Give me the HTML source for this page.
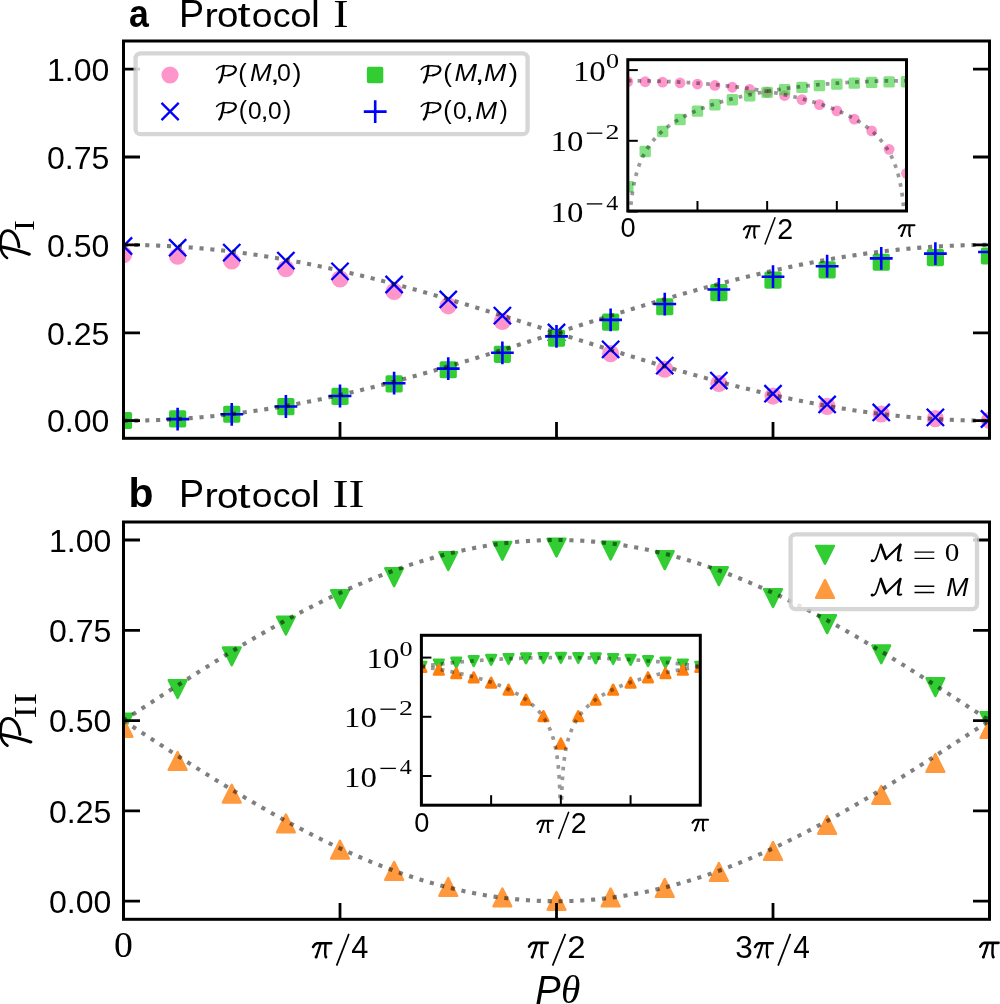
<!DOCTYPE html>
<html><head><meta charset="utf-8"><style>
html,body{margin:0;padding:0;background:#fff;width:1000px;height:1004px;overflow:hidden}
svg{display:block}
.s,.sb,.si{font-family:"Liberation Sans",sans-serif;font-kerning:none}
.sb{font-weight:bold}.si{font-style:italic}
.r,.ri{font-family:"Liberation Serif",serif;font-kerning:none}
.ri{font-style:italic}
</style></head><body>
<svg width="1000" height="1004" viewBox="0 0 1000 1004">
<defs>
<clipPath id="ca"><rect x="123.5" y="41.0" width="866.0" height="397.3"/></clipPath>
<clipPath id="cb"><rect x="123.5" y="522.0" width="866.0" height="397.29999999999995"/></clipPath>
<clipPath id="cia"><rect x="627.8" y="59.7" width="278.7" height="151.3"/></clipPath>
<clipPath id="cib"><rect x="421.4" y="635.3" width="278.9" height="169.9"/></clipPath>
</defs>
<rect width="1000" height="1004" fill="#fff"/>
<g clip-path="url(#ca)">
<circle cx="123.5" cy="254.67" r="8.6" fill="#ff96cb"/>
<circle cx="177.62" cy="256.27" r="8.6" fill="#ff96cb"/>
<circle cx="231.75" cy="260.98" r="8.6" fill="#ff96cb"/>
<circle cx="285.88" cy="268.63" r="8.6" fill="#ff96cb"/>
<circle cx="340" cy="278.93" r="8.6" fill="#ff96cb"/>
<circle cx="394.12" cy="291.47" r="8.6" fill="#ff96cb"/>
<circle cx="448.25" cy="305.79" r="8.6" fill="#ff96cb"/>
<circle cx="502.38" cy="321.32" r="8.6" fill="#ff96cb"/>
<circle cx="556.5" cy="337.48" r="8.6" fill="#ff96cb"/>
<circle cx="610.62" cy="353.63" r="8.6" fill="#ff96cb"/>
<circle cx="664.75" cy="369.16" r="8.6" fill="#ff96cb"/>
<circle cx="718.87" cy="383.48" r="8.6" fill="#ff96cb"/>
<circle cx="773" cy="396.03" r="8.6" fill="#ff96cb"/>
<circle cx="827.13" cy="406.32" r="8.6" fill="#ff96cb"/>
<circle cx="881.25" cy="413.98" r="8.6" fill="#ff96cb"/>
<circle cx="935.37" cy="418.69" r="8.6" fill="#ff96cb"/>
<circle cx="989.5" cy="420.28" r="8.6" fill="#ff96cb"/>
<path d="M114.9,237.43L132.1,254.63M114.9,254.63L132.1,237.43" stroke="#0000ff" stroke-width="2.3" fill="none"/>
<path d="M169.03,239.09L186.22,256.29M169.03,256.29L186.22,239.09" stroke="#0000ff" stroke-width="2.3" fill="none"/>
<path d="M223.15,244.01L240.35,261.21M223.15,261.21L240.35,244.01" stroke="#0000ff" stroke-width="2.3" fill="none"/>
<path d="M277.27,252L294.48,269.2M277.27,269.2L294.48,252" stroke="#0000ff" stroke-width="2.3" fill="none"/>
<path d="M331.4,262.76L348.6,279.96M331.4,279.96L348.6,262.76" stroke="#0000ff" stroke-width="2.3" fill="none"/>
<path d="M385.52,275.87L402.73,293.07M385.52,293.07L402.73,275.87" stroke="#0000ff" stroke-width="2.3" fill="none"/>
<path d="M439.65,290.82L456.85,308.02M439.65,308.02L456.85,290.82" stroke="#0000ff" stroke-width="2.3" fill="none"/>
<path d="M493.77,307.04L510.98,324.24M493.77,324.24L510.98,307.04" stroke="#0000ff" stroke-width="2.3" fill="none"/>
<path d="M547.9,323.92L565.1,341.12M547.9,341.12L565.1,323.92" stroke="#0000ff" stroke-width="2.3" fill="none"/>
<path d="M602.02,340.79L619.23,357.99M602.02,357.99L619.23,340.79" stroke="#0000ff" stroke-width="2.3" fill="none"/>
<path d="M656.15,357.02L673.35,374.22M656.15,374.22L673.35,357.02" stroke="#0000ff" stroke-width="2.3" fill="none"/>
<path d="M710.27,371.97L727.47,389.17M710.27,389.17L727.47,371.97" stroke="#0000ff" stroke-width="2.3" fill="none"/>
<path d="M764.4,385.08L781.6,402.28M764.4,402.28L781.6,385.08" stroke="#0000ff" stroke-width="2.3" fill="none"/>
<path d="M818.53,395.84L835.73,413.04M818.53,413.04L835.73,395.84" stroke="#0000ff" stroke-width="2.3" fill="none"/>
<path d="M872.65,403.83L889.85,421.03M872.65,421.03L889.85,403.83" stroke="#0000ff" stroke-width="2.3" fill="none"/>
<path d="M926.77,408.75L943.97,425.95M926.77,425.95L943.97,408.75" stroke="#0000ff" stroke-width="2.3" fill="none"/>
<path d="M980.9,410.41L998.1,427.61M980.9,427.61L998.1,410.41" stroke="#0000ff" stroke-width="2.3" fill="none"/>
<rect x="114.9" y="411.92" width="17.2" height="17.2" rx="1.8" fill="#32cd32"/>
<rect x="169.03" y="410.34" width="17.2" height="17.2" rx="1.8" fill="#32cd32"/>
<rect x="223.15" y="405.66" width="17.2" height="17.2" rx="1.8" fill="#32cd32"/>
<rect x="277.27" y="398.06" width="17.2" height="17.2" rx="1.8" fill="#32cd32"/>
<rect x="331.4" y="387.83" width="17.2" height="17.2" rx="1.8" fill="#32cd32"/>
<rect x="385.52" y="375.36" width="17.2" height="17.2" rx="1.8" fill="#32cd32"/>
<rect x="439.65" y="361.13" width="17.2" height="17.2" rx="1.8" fill="#32cd32"/>
<rect x="493.77" y="345.7" width="17.2" height="17.2" rx="1.8" fill="#32cd32"/>
<rect x="547.9" y="329.65" width="17.2" height="17.2" rx="1.8" fill="#32cd32"/>
<rect x="602.02" y="313.6" width="17.2" height="17.2" rx="1.8" fill="#32cd32"/>
<rect x="656.15" y="298.16" width="17.2" height="17.2" rx="1.8" fill="#32cd32"/>
<rect x="710.27" y="283.94" width="17.2" height="17.2" rx="1.8" fill="#32cd32"/>
<rect x="764.4" y="271.47" width="17.2" height="17.2" rx="1.8" fill="#32cd32"/>
<rect x="818.53" y="261.24" width="17.2" height="17.2" rx="1.8" fill="#32cd32"/>
<rect x="872.65" y="253.64" width="17.2" height="17.2" rx="1.8" fill="#32cd32"/>
<rect x="926.77" y="248.96" width="17.2" height="17.2" rx="1.8" fill="#32cd32"/>
<rect x="980.9" y="247.38" width="17.2" height="17.2" rx="1.8" fill="#32cd32"/>
<path d="M112.1,420.7H134.9M123.5,409.3V432.1" stroke="#0000ff" stroke-width="2.6" fill="none"/>
<path d="M166.22,419.08H189.03M177.62,407.68V430.48" stroke="#0000ff" stroke-width="2.6" fill="none"/>
<path d="M220.35,414.28H243.15M231.75,402.88V425.68" stroke="#0000ff" stroke-width="2.6" fill="none"/>
<path d="M274.48,406.48H297.27M285.88,395.08V417.88" stroke="#0000ff" stroke-width="2.6" fill="none"/>
<path d="M328.6,395.99H351.4M340,384.59V407.39" stroke="#0000ff" stroke-width="2.6" fill="none"/>
<path d="M382.73,383.21H405.52M394.12,371.81V394.61" stroke="#0000ff" stroke-width="2.6" fill="none"/>
<path d="M436.85,368.63H459.65M448.25,357.23V380.03" stroke="#0000ff" stroke-width="2.6" fill="none"/>
<path d="M490.98,352.81H513.77M502.38,341.41V364.21" stroke="#0000ff" stroke-width="2.6" fill="none"/>
<path d="M545.1,336.35H567.9M556.5,324.95V347.75" stroke="#0000ff" stroke-width="2.6" fill="none"/>
<path d="M599.23,319.9H622.02M610.62,308.5V331.3" stroke="#0000ff" stroke-width="2.6" fill="none"/>
<path d="M653.35,304.07H676.15M664.75,292.67V315.47" stroke="#0000ff" stroke-width="2.6" fill="none"/>
<path d="M707.47,289.49H730.27M718.87,278.09V300.89" stroke="#0000ff" stroke-width="2.6" fill="none"/>
<path d="M761.6,276.71H784.4M773,265.31V288.11" stroke="#0000ff" stroke-width="2.6" fill="none"/>
<path d="M815.73,266.22H838.53M827.13,254.82V277.62" stroke="#0000ff" stroke-width="2.6" fill="none"/>
<path d="M869.85,258.42H892.65M881.25,247.02V269.82" stroke="#0000ff" stroke-width="2.6" fill="none"/>
<path d="M923.97,253.62H946.77M935.37,242.22V265.02" stroke="#0000ff" stroke-width="2.6" fill="none"/>
<path d="M978.1,252H1000.9M989.5,240.6V263.4" stroke="#0000ff" stroke-width="2.6" fill="none"/>
<path d="M123.5,244.9L125.67,244.9L127.83,244.91L130,244.92L132.16,244.94L134.32,244.97L136.49,245L138.66,245.03L140.82,245.07L142.99,245.12L145.15,245.17L147.31,245.23L149.48,245.29L151.65,245.36L153.81,245.43L155.97,245.51L158.14,245.59L160.31,245.68L162.47,245.78L164.63,245.88L166.8,245.98L168.97,246.09L171.13,246.21L173.29,246.33L175.46,246.46L177.62,246.59L179.79,246.73L181.96,246.87L184.12,247.02L186.29,247.17L188.45,247.33L190.62,247.49L192.78,247.66L194.94,247.84L197.11,248.02L199.27,248.2L201.44,248.39L203.61,248.59L205.77,248.79L207.94,248.99L210.1,249.2L212.26,249.42L214.43,249.64L216.59,249.87L218.76,250.1L220.93,250.33L223.09,250.57L225.25,250.82L227.42,251.07L229.58,251.33L231.75,251.59L233.92,251.86L236.08,252.13L238.25,252.41L240.41,252.69L242.57,252.97L244.74,253.27L246.9,253.56L249.07,253.86L251.24,254.17L253.4,254.48L255.56,254.8L257.73,255.12L259.89,255.44L262.06,255.77L264.23,256.11L266.39,256.45L268.56,256.79L270.72,257.14L272.88,257.49L275.05,257.85L277.22,258.22L279.38,258.58L281.54,258.96L283.71,259.33L285.88,259.71L288.04,260.1L290.21,260.49L292.37,260.88L294.53,261.28L296.7,261.69L298.87,262.1L301.03,262.51L303.2,262.92L305.36,263.35L307.52,263.77L309.69,264.2L311.85,264.63L314.02,265.07L316.19,265.51L318.35,265.96L320.51,266.41L322.68,266.87L324.85,267.32L327.01,267.79L329.17,268.25L331.34,268.72L333.5,269.2L335.67,269.68L337.84,270.16L340,270.65L342.16,271.14L344.33,271.63L346.5,272.13L348.66,272.63L350.83,273.13L352.99,273.64L355.15,274.15L357.32,274.67L359.48,275.19L361.65,275.71L363.82,276.24L365.98,276.77L368.14,277.3L370.31,277.84L372.48,278.38L374.64,278.93L376.8,279.47L378.97,280.02L381.13,280.58L383.3,281.13L385.47,281.69L387.63,282.26L389.8,282.82L391.96,283.39L394.12,283.97L396.29,284.54L398.45,285.12L400.62,285.7L402.79,286.29L404.95,286.87L407.12,287.46L409.28,288.06L411.44,288.65L413.61,289.25L415.78,289.85L417.94,290.45L420.11,291.06L422.27,291.67L424.44,292.28L426.6,292.89L428.76,293.51L430.93,294.13L433.1,294.75L435.26,295.37L437.43,296L439.59,296.63L441.76,297.26L443.92,297.89L446.08,298.53L448.25,299.16L450.42,299.8L452.58,300.44L454.75,301.08L456.91,301.73L459.07,302.38L461.24,303.02L463.4,303.68L465.57,304.33L467.74,304.98L469.9,305.64L472.06,306.29L474.23,306.95L476.39,307.61L478.56,308.28L480.72,308.94L482.89,309.61L485.06,310.27L487.22,310.94L489.38,311.61L491.55,312.28L493.71,312.95L495.88,313.63L498.04,314.3L500.21,314.97L502.37,315.65L504.54,316.33L506.71,317.01L508.87,317.69L511.04,318.37L513.2,319.05L515.37,319.73L517.53,320.41L519.69,321.1L521.86,321.78L524.03,322.47L526.19,323.15L528.36,323.84L530.52,324.53L532.68,325.22L534.85,325.9L537.01,326.59L539.18,327.28L541.35,327.97L543.51,328.66L545.67,329.35L547.84,330.04L550,330.73L552.17,331.42L554.34,332.11L556.5,332.8L558.66,333.49L560.83,334.18L563,334.87L565.16,335.56L567.33,336.25L569.49,336.94L571.65,337.63L573.82,338.32L575.98,339.01L578.15,339.7L580.32,340.38L582.48,341.07L584.64,341.76L586.81,342.45L588.97,343.13L591.14,343.82L593.31,344.5L595.47,345.19L597.63,345.87L599.8,346.55L601.97,347.23L604.13,347.91L606.3,348.59L608.46,349.27L610.62,349.95L612.79,350.63L614.95,351.3L617.12,351.97L619.28,352.65L621.45,353.32L623.62,353.99L625.78,354.66L627.94,355.33L630.11,355.99L632.28,356.66L634.44,357.32L636.61,357.99L638.77,358.65L640.93,359.31L643.1,359.96L645.26,360.62L647.43,361.27L649.6,361.92L651.76,362.58L653.93,363.22L656.09,363.87L658.25,364.52L660.42,365.16L662.58,365.8L664.75,366.44L666.92,367.07L669.08,367.71L671.25,368.34L673.41,368.97L675.58,369.6L677.74,370.23L679.91,370.85L682.07,371.47L684.24,372.09L686.4,372.71L688.56,373.32L690.73,373.93L692.9,374.54L695.06,375.15L697.23,375.75L699.39,376.35L701.56,376.95L703.72,377.54L705.88,378.14L708.05,378.73L710.22,379.31L712.38,379.9L714.55,380.48L716.71,381.06L718.88,381.63L721.04,382.21L723.21,382.78L725.37,383.34L727.53,383.91L729.7,384.47L731.87,385.02L734.03,385.58L736.2,386.13L738.36,386.67L740.52,387.22L742.69,387.76L744.86,388.3L747.02,388.83L749.19,389.36L751.35,389.89L753.51,390.41L755.68,390.93L757.84,391.45L760.01,391.96L762.18,392.47L764.34,392.97L766.5,393.47L768.67,393.97L770.84,394.46L773,394.95L775.16,395.44L777.33,395.92L779.5,396.4L781.66,396.88L783.83,397.35L785.99,397.81L788.16,398.28L790.32,398.73L792.49,399.19L794.65,399.64L796.81,400.09L798.98,400.53L801.14,400.97L803.31,401.4L805.48,401.83L807.64,402.25L809.81,402.68L811.97,403.09L814.13,403.5L816.3,403.91L818.47,404.32L820.63,404.72L822.79,405.11L824.96,405.5L827.12,405.89L829.29,406.27L831.46,406.64L833.62,407.02L835.78,407.38L837.95,407.75L840.12,408.11L842.28,408.46L844.44,408.81L846.61,409.15L848.77,409.49L850.94,409.83L853.1,410.16L855.27,410.48L857.43,410.8L859.6,411.12L861.76,411.43L863.93,411.74L866.1,412.04L868.26,412.33L870.43,412.63L872.59,412.91L874.75,413.19L876.92,413.47L879.09,413.74L881.25,414.01L883.41,414.27L885.58,414.53L887.75,414.78L889.91,415.03L892.07,415.27L894.24,415.5L896.4,415.73L898.57,415.96L900.73,416.18L902.9,416.4L905.06,416.61L907.23,416.81L909.4,417.01L911.56,417.21L913.73,417.4L915.89,417.58L918.06,417.76L920.22,417.94L922.38,418.11L924.55,418.27L926.72,418.43L928.88,418.58L931.04,418.73L933.21,418.87L935.37,419.01L937.54,419.14L939.7,419.27L941.87,419.39L944.03,419.51L946.2,419.62L948.37,419.72L950.53,419.82L952.69,419.92L954.86,420.01L957.02,420.09L959.19,420.17L961.36,420.24L963.52,420.31L965.69,420.37L967.85,420.43L970.01,420.48L972.18,420.53L974.34,420.57L976.51,420.6L978.67,420.63L980.84,420.66L983,420.68L985.17,420.69L987.34,420.7L989.5,420.7" stroke="#000" stroke-opacity="0.5" stroke-width="4.1" stroke-dasharray="4.1 6.77" fill="none"/>
<path d="M123.5,420.7L125.67,420.7L127.83,420.69L130,420.68L132.16,420.66L134.32,420.63L136.49,420.6L138.66,420.57L140.82,420.53L142.99,420.48L145.15,420.43L147.31,420.37L149.48,420.31L151.65,420.24L153.81,420.17L155.97,420.09L158.14,420.01L160.31,419.92L162.47,419.82L164.63,419.72L166.8,419.62L168.97,419.51L171.13,419.39L173.29,419.27L175.46,419.14L177.62,419.01L179.79,418.87L181.96,418.73L184.12,418.58L186.29,418.43L188.45,418.27L190.62,418.11L192.78,417.94L194.94,417.76L197.11,417.58L199.27,417.4L201.44,417.21L203.61,417.01L205.77,416.81L207.94,416.61L210.1,416.4L212.26,416.18L214.43,415.96L216.59,415.73L218.76,415.5L220.93,415.27L223.09,415.03L225.25,414.78L227.42,414.53L229.58,414.27L231.75,414.01L233.92,413.74L236.08,413.47L238.25,413.19L240.41,412.91L242.57,412.63L244.74,412.33L246.9,412.04L249.07,411.74L251.24,411.43L253.4,411.12L255.56,410.8L257.73,410.48L259.89,410.16L262.06,409.83L264.23,409.49L266.39,409.15L268.56,408.81L270.72,408.46L272.88,408.11L275.05,407.75L277.22,407.38L279.38,407.02L281.54,406.64L283.71,406.27L285.88,405.89L288.04,405.5L290.21,405.11L292.37,404.72L294.53,404.32L296.7,403.91L298.87,403.5L301.03,403.09L303.2,402.68L305.36,402.25L307.52,401.83L309.69,401.4L311.85,400.97L314.02,400.53L316.19,400.09L318.35,399.64L320.51,399.19L322.68,398.73L324.85,398.28L327.01,397.81L329.17,397.35L331.34,396.88L333.5,396.4L335.67,395.92L337.84,395.44L340,394.95L342.16,394.46L344.33,393.97L346.5,393.47L348.66,392.97L350.83,392.47L352.99,391.96L355.15,391.45L357.32,390.93L359.48,390.41L361.65,389.89L363.82,389.36L365.98,388.83L368.14,388.3L370.31,387.76L372.48,387.22L374.64,386.67L376.8,386.13L378.97,385.58L381.13,385.02L383.3,384.47L385.47,383.91L387.63,383.34L389.8,382.78L391.96,382.21L394.12,381.63L396.29,381.06L398.45,380.48L400.62,379.9L402.79,379.31L404.95,378.73L407.12,378.14L409.28,377.54L411.44,376.95L413.61,376.35L415.78,375.75L417.94,375.15L420.11,374.54L422.27,373.93L424.44,373.32L426.6,372.71L428.76,372.09L430.93,371.47L433.1,370.85L435.26,370.23L437.43,369.6L439.59,368.97L441.76,368.34L443.92,367.71L446.08,367.07L448.25,366.44L450.42,365.8L452.58,365.16L454.75,364.52L456.91,363.87L459.07,363.22L461.24,362.58L463.4,361.92L465.57,361.27L467.74,360.62L469.9,359.96L472.06,359.31L474.23,358.65L476.39,357.99L478.56,357.32L480.72,356.66L482.89,355.99L485.06,355.33L487.22,354.66L489.38,353.99L491.55,353.32L493.71,352.65L495.88,351.97L498.04,351.3L500.21,350.63L502.37,349.95L504.54,349.27L506.71,348.59L508.87,347.91L511.04,347.23L513.2,346.55L515.37,345.87L517.53,345.19L519.69,344.5L521.86,343.82L524.03,343.13L526.19,342.45L528.36,341.76L530.52,341.07L532.68,340.38L534.85,339.7L537.01,339.01L539.18,338.32L541.35,337.63L543.51,336.94L545.67,336.25L547.84,335.56L550,334.87L552.17,334.18L554.34,333.49L556.5,332.8L558.66,332.11L560.83,331.42L563,330.73L565.16,330.04L567.33,329.35L569.49,328.66L571.65,327.97L573.82,327.28L575.98,326.59L578.15,325.9L580.32,325.22L582.48,324.53L584.64,323.84L586.81,323.15L588.97,322.47L591.14,321.78L593.31,321.1L595.47,320.41L597.63,319.73L599.8,319.05L601.97,318.37L604.13,317.69L606.3,317.01L608.46,316.33L610.62,315.65L612.79,314.97L614.95,314.3L617.12,313.63L619.28,312.95L621.45,312.28L623.62,311.61L625.78,310.94L627.94,310.27L630.11,309.61L632.28,308.94L634.44,308.28L636.61,307.61L638.77,306.95L640.93,306.29L643.1,305.64L645.26,304.98L647.43,304.33L649.6,303.68L651.76,303.02L653.93,302.38L656.09,301.73L658.25,301.08L660.42,300.44L662.58,299.8L664.75,299.16L666.92,298.53L669.08,297.89L671.25,297.26L673.41,296.63L675.58,296L677.74,295.37L679.91,294.75L682.07,294.13L684.24,293.51L686.4,292.89L688.56,292.28L690.73,291.67L692.9,291.06L695.06,290.45L697.23,289.85L699.39,289.25L701.56,288.65L703.72,288.06L705.88,287.46L708.05,286.87L710.22,286.29L712.38,285.7L714.55,285.12L716.71,284.54L718.88,283.97L721.04,283.39L723.21,282.82L725.37,282.26L727.53,281.69L729.7,281.13L731.87,280.58L734.03,280.02L736.2,279.47L738.36,278.93L740.52,278.38L742.69,277.84L744.86,277.3L747.02,276.77L749.19,276.24L751.35,275.71L753.51,275.19L755.68,274.67L757.84,274.15L760.01,273.64L762.18,273.13L764.34,272.63L766.5,272.13L768.67,271.63L770.84,271.14L773,270.65L775.16,270.16L777.33,269.68L779.5,269.2L781.66,268.72L783.83,268.25L785.99,267.79L788.16,267.32L790.32,266.87L792.49,266.41L794.65,265.96L796.81,265.51L798.98,265.07L801.14,264.63L803.31,264.2L805.48,263.77L807.64,263.35L809.81,262.92L811.97,262.51L814.13,262.1L816.3,261.69L818.47,261.28L820.63,260.88L822.79,260.49L824.96,260.1L827.12,259.71L829.29,259.33L831.46,258.96L833.62,258.58L835.78,258.22L837.95,257.85L840.12,257.49L842.28,257.14L844.44,256.79L846.61,256.45L848.77,256.11L850.94,255.77L853.1,255.44L855.27,255.12L857.43,254.8L859.6,254.48L861.76,254.17L863.93,253.86L866.1,253.56L868.26,253.27L870.43,252.97L872.59,252.69L874.75,252.41L876.92,252.13L879.09,251.86L881.25,251.59L883.41,251.33L885.58,251.07L887.75,250.82L889.91,250.57L892.07,250.33L894.24,250.1L896.4,249.87L898.57,249.64L900.73,249.42L902.9,249.2L905.06,248.99L907.23,248.79L909.4,248.59L911.56,248.39L913.73,248.2L915.89,248.02L918.06,247.84L920.22,247.66L922.38,247.49L924.55,247.33L926.72,247.17L928.88,247.02L931.04,246.87L933.21,246.73L935.37,246.59L937.54,246.46L939.7,246.33L941.87,246.21L944.03,246.09L946.2,245.98L948.37,245.88L950.53,245.78L952.69,245.68L954.86,245.59L957.02,245.51L959.19,245.43L961.36,245.36L963.52,245.29L965.69,245.23L967.85,245.17L970.01,245.12L972.18,245.07L974.34,245.03L976.51,245L978.67,244.97L980.84,244.94L983,244.92L985.17,244.91L987.34,244.9L989.5,244.9" stroke="#000" stroke-opacity="0.5" stroke-width="4.1" stroke-dasharray="4.1 6.77" fill="none"/>
</g>
<path d="M123.5,420.7H140.0M989.5,420.7H973.0" stroke="#000" stroke-width="2.8"/><path d="M123.5,332.8H140.0M989.5,332.8H973.0" stroke="#000" stroke-width="2.8"/><path d="M123.5,244.9H140.0M989.5,244.9H973.0" stroke="#000" stroke-width="2.8"/><path d="M123.5,157H140.0M989.5,157H973.0" stroke="#000" stroke-width="2.8"/><path d="M123.5,69.1H140.0M989.5,69.1H973.0" stroke="#000" stroke-width="2.8"/><path d="M123.5,438.3V422.0" stroke="#000" stroke-width="2.8"/><path d="M340,438.3V422.0" stroke="#000" stroke-width="2.8"/><path d="M556.5,438.3V422.0" stroke="#000" stroke-width="2.8"/><path d="M773,438.3V422.0" stroke="#000" stroke-width="2.8"/><path d="M989.5,438.3V422.0" stroke="#000" stroke-width="2.8"/><rect x="123.5" y="41.0" width="866.0" height="397.3" fill="none" stroke="#000" stroke-width="3"/>
<rect x="135.6" y="53.3" width="392" height="80.9" rx="5" fill="#fff" fill-opacity="0.8" stroke="#ccc" stroke-opacity="0.8" stroke-width="4.3"/>
<circle cx="170" cy="75" r="8.6" fill="#ff96cb"/>
<path d="M161.5,102.9L178.7,120.1M161.5,120.1L178.7,102.9" stroke="#0000ff" stroke-width="2.3" fill="none"/>
<rect x="366.9" y="66.85" width="16.4" height="16.4" rx="1.8" fill="#32cd32"/>
<path d="M363.8,111.6H386.6M375.2,100.2V123" stroke="#0000ff" stroke-width="2.6" fill="none"/>
<g clip-path="url(#cb)">
<path d="M114.6,713.7L132.4,713.7L123.5,731.5Z" fill="#32cd32" stroke="#32cd32" stroke-width="2.4" stroke-linejoin="round"/>
<path d="M168.72,680.1L186.53,680.1L177.62,697.9Z" fill="#32cd32" stroke="#32cd32" stroke-width="2.4" stroke-linejoin="round"/>
<path d="M222.85,647.5L240.65,647.5L231.75,665.3Z" fill="#32cd32" stroke="#32cd32" stroke-width="2.4" stroke-linejoin="round"/>
<path d="M276.98,616.7L294.77,616.7L285.88,634.5Z" fill="#32cd32" stroke="#32cd32" stroke-width="2.4" stroke-linejoin="round"/>
<path d="M331.1,590.1L348.9,590.1L340,607.9Z" fill="#32cd32" stroke="#32cd32" stroke-width="2.4" stroke-linejoin="round"/>
<path d="M385.23,568.3L403.02,568.3L394.12,586.1Z" fill="#32cd32" stroke="#32cd32" stroke-width="2.4" stroke-linejoin="round"/>
<path d="M439.35,552.1L457.15,552.1L448.25,569.9Z" fill="#32cd32" stroke="#32cd32" stroke-width="2.4" stroke-linejoin="round"/>
<path d="M493.48,541.9L511.27,541.9L502.38,559.7Z" fill="#32cd32" stroke="#32cd32" stroke-width="2.4" stroke-linejoin="round"/>
<path d="M547.6,538.6L565.4,538.6L556.5,556.4Z" fill="#32cd32" stroke="#32cd32" stroke-width="2.4" stroke-linejoin="round"/>
<path d="M601.73,541.6L619.52,541.6L610.62,559.4Z" fill="#32cd32" stroke="#32cd32" stroke-width="2.4" stroke-linejoin="round"/>
<path d="M655.85,551.3L673.65,551.3L664.75,569.1Z" fill="#32cd32" stroke="#32cd32" stroke-width="2.4" stroke-linejoin="round"/>
<path d="M709.97,567.3L727.77,567.3L718.87,585.1Z" fill="#32cd32" stroke="#32cd32" stroke-width="2.4" stroke-linejoin="round"/>
<path d="M764.1,589.1L781.9,589.1L773,606.9Z" fill="#32cd32" stroke="#32cd32" stroke-width="2.4" stroke-linejoin="round"/>
<path d="M818.23,615.3L836.03,615.3L827.13,633.1Z" fill="#32cd32" stroke="#32cd32" stroke-width="2.4" stroke-linejoin="round"/>
<path d="M872.35,645.5L890.15,645.5L881.25,663.3Z" fill="#32cd32" stroke="#32cd32" stroke-width="2.4" stroke-linejoin="round"/>
<path d="M926.47,678.3L944.27,678.3L935.37,696.1Z" fill="#32cd32" stroke="#32cd32" stroke-width="2.4" stroke-linejoin="round"/>
<path d="M980.6,712.1L998.4,712.1L989.5,729.9Z" fill="#32cd32" stroke="#32cd32" stroke-width="2.4" stroke-linejoin="round"/>
<path d="M114.6,736.7L132.4,736.7L123.5,718.9Z" fill="#ff993e" stroke="#ff993e" stroke-width="2.4" stroke-linejoin="round"/>
<path d="M168.72,769.9L186.53,769.9L177.62,752.1Z" fill="#ff993e" stroke="#ff993e" stroke-width="2.4" stroke-linejoin="round"/>
<path d="M222.85,802.5L240.65,802.5L231.75,784.7Z" fill="#ff993e" stroke="#ff993e" stroke-width="2.4" stroke-linejoin="round"/>
<path d="M276.98,832.3L294.77,832.3L285.88,814.5Z" fill="#ff993e" stroke="#ff993e" stroke-width="2.4" stroke-linejoin="round"/>
<path d="M331.1,858.5L348.9,858.5L340,840.7Z" fill="#ff993e" stroke="#ff993e" stroke-width="2.4" stroke-linejoin="round"/>
<path d="M385.23,879.9L403.02,879.9L394.12,862.1Z" fill="#ff993e" stroke="#ff993e" stroke-width="2.4" stroke-linejoin="round"/>
<path d="M439.35,895.9L457.15,895.9L448.25,878.1Z" fill="#ff993e" stroke="#ff993e" stroke-width="2.4" stroke-linejoin="round"/>
<path d="M493.48,906.3L511.27,906.3L502.38,888.5Z" fill="#ff993e" stroke="#ff993e" stroke-width="2.4" stroke-linejoin="round"/>
<path d="M547.6,909.8L565.4,909.8L556.5,892Z" fill="#ff993e" stroke="#ff993e" stroke-width="2.4" stroke-linejoin="round"/>
<path d="M601.73,906.4L619.52,906.4L610.62,888.6Z" fill="#ff993e" stroke="#ff993e" stroke-width="2.4" stroke-linejoin="round"/>
<path d="M655.85,896.9L673.65,896.9L664.75,879.1Z" fill="#ff993e" stroke="#ff993e" stroke-width="2.4" stroke-linejoin="round"/>
<path d="M709.97,880.9L727.77,880.9L718.87,863.1Z" fill="#ff993e" stroke="#ff993e" stroke-width="2.4" stroke-linejoin="round"/>
<path d="M764.1,859.9L781.9,859.9L773,842.1Z" fill="#ff993e" stroke="#ff993e" stroke-width="2.4" stroke-linejoin="round"/>
<path d="M818.23,833.9L836.03,833.9L827.13,816.1Z" fill="#ff993e" stroke="#ff993e" stroke-width="2.4" stroke-linejoin="round"/>
<path d="M872.35,803.9L890.15,803.9L881.25,786.1Z" fill="#ff993e" stroke="#ff993e" stroke-width="2.4" stroke-linejoin="round"/>
<path d="M926.47,771.9L944.27,771.9L935.37,754.1Z" fill="#ff993e" stroke="#ff993e" stroke-width="2.4" stroke-linejoin="round"/>
<path d="M980.6,737.9L998.4,737.9L989.5,720.1Z" fill="#ff993e" stroke="#ff993e" stroke-width="2.4" stroke-linejoin="round"/>
<path d="M123.5,720.6L125.67,719.18L127.83,717.76L130,716.35L132.16,714.93L134.32,713.51L136.49,712.09L138.66,710.68L140.82,709.26L142.99,707.84L145.15,706.43L147.31,705.02L149.48,703.6L151.65,702.19L153.81,700.78L155.97,699.37L158.14,697.96L160.31,696.56L162.47,695.15L164.63,693.75L166.8,692.35L168.97,690.95L171.13,689.55L173.29,688.15L175.46,686.76L177.62,685.37L179.79,683.98L181.96,682.59L184.12,681.2L186.29,679.82L188.45,678.44L190.62,677.06L192.78,675.69L194.94,674.31L197.11,672.94L199.27,671.58L201.44,670.21L203.61,668.85L205.77,667.5L207.94,666.14L210.1,664.79L212.26,663.44L214.43,662.1L216.59,660.76L218.76,659.42L220.93,658.09L223.09,656.76L225.25,655.44L227.42,654.12L229.58,652.8L231.75,651.49L233.92,650.18L236.08,648.88L238.25,647.58L240.41,646.28L242.57,644.99L244.74,643.7L246.9,642.42L249.07,641.15L251.24,639.88L253.4,638.61L255.56,637.35L257.73,636.09L259.89,634.84L262.06,633.6L264.23,632.36L266.39,631.12L268.56,629.89L270.72,628.67L272.88,627.45L275.05,626.24L277.22,625.03L279.38,623.83L281.54,622.64L283.71,621.45L285.88,620.26L288.04,619.09L290.21,617.92L292.37,616.75L294.53,615.6L296.7,614.45L298.87,613.3L301.03,612.16L303.2,611.03L305.36,609.91L307.52,608.79L309.69,607.68L311.85,606.58L314.02,605.48L316.19,604.39L318.35,603.31L320.51,602.23L322.68,601.17L324.85,600.11L327.01,599.05L329.17,598.01L331.34,596.97L333.5,595.94L335.67,594.92L337.84,593.9L340,592.9L342.16,591.9L344.33,590.91L346.5,589.92L348.66,588.95L350.83,587.98L352.99,587.02L355.15,586.07L357.32,585.13L359.48,584.2L361.65,583.27L363.82,582.35L365.98,581.45L368.14,580.55L370.31,579.65L372.48,578.77L374.64,577.9L376.8,577.03L378.97,576.18L381.13,575.33L383.3,574.49L385.47,573.66L387.63,572.84L389.8,572.03L391.96,571.23L394.12,570.44L396.29,569.65L398.45,568.88L400.62,568.11L402.79,567.36L404.95,566.61L407.12,565.88L409.28,565.15L411.44,564.43L413.61,563.73L415.78,563.03L417.94,562.34L420.11,561.66L422.27,560.99L424.44,560.33L426.6,559.68L428.76,559.05L430.93,558.42L433.1,557.8L435.26,557.19L437.43,556.59L439.59,556L441.76,555.42L443.92,554.85L446.08,554.3L448.25,553.75L450.42,553.21L452.58,552.68L454.75,552.17L456.91,551.66L459.07,551.16L461.24,550.68L463.4,550.2L465.57,549.74L467.74,549.28L469.9,548.84L472.06,548.41L474.23,547.98L476.39,547.57L478.56,547.17L480.72,546.78L482.89,546.4L485.06,546.03L487.22,545.67L489.38,545.33L491.55,544.99L493.71,544.66L495.88,544.35L498.04,544.05L500.21,543.75L502.37,543.47L504.54,543.2L506.71,542.94L508.87,542.69L511.04,542.45L513.2,542.22L515.37,542.01L517.53,541.8L519.69,541.61L521.86,541.42L524.03,541.25L526.19,541.09L528.36,540.94L530.52,540.8L532.68,540.67L534.85,540.56L537.01,540.45L539.18,540.36L541.35,540.27L543.51,540.2L545.67,540.14L547.84,540.09L550,540.05L552.17,540.02L554.34,540.01L556.5,540L558.66,540.01L560.83,540.02L563,540.05L565.16,540.09L567.33,540.14L569.49,540.2L571.65,540.27L573.82,540.36L575.98,540.45L578.15,540.56L580.32,540.67L582.48,540.8L584.64,540.94L586.81,541.09L588.97,541.25L591.14,541.42L593.31,541.61L595.47,541.8L597.63,542.01L599.8,542.22L601.97,542.45L604.13,542.69L606.3,542.94L608.46,543.2L610.62,543.47L612.79,543.75L614.95,544.05L617.12,544.35L619.28,544.66L621.45,544.99L623.62,545.33L625.78,545.67L627.94,546.03L630.11,546.4L632.28,546.78L634.44,547.17L636.61,547.57L638.77,547.98L640.93,548.41L643.1,548.84L645.26,549.28L647.43,549.74L649.6,550.2L651.76,550.68L653.93,551.16L656.09,551.66L658.25,552.17L660.42,552.68L662.58,553.21L664.75,553.75L666.92,554.3L669.08,554.85L671.25,555.42L673.41,556L675.58,556.59L677.74,557.19L679.91,557.8L682.07,558.42L684.24,559.05L686.4,559.68L688.56,560.33L690.73,560.99L692.9,561.66L695.06,562.34L697.23,563.03L699.39,563.73L701.56,564.43L703.72,565.15L705.88,565.88L708.05,566.61L710.22,567.36L712.38,568.11L714.55,568.88L716.71,569.65L718.88,570.44L721.04,571.23L723.21,572.03L725.37,572.84L727.53,573.66L729.7,574.49L731.87,575.33L734.03,576.18L736.2,577.03L738.36,577.9L740.52,578.77L742.69,579.65L744.86,580.55L747.02,581.45L749.19,582.35L751.35,583.27L753.51,584.2L755.68,585.13L757.84,586.07L760.01,587.02L762.18,587.98L764.34,588.95L766.5,589.92L768.67,590.91L770.84,591.9L773,592.9L775.16,593.9L777.33,594.92L779.5,595.94L781.66,596.97L783.83,598.01L785.99,599.05L788.16,600.11L790.32,601.17L792.49,602.23L794.65,603.31L796.81,604.39L798.98,605.48L801.14,606.58L803.31,607.68L805.48,608.79L807.64,609.91L809.81,611.03L811.97,612.16L814.13,613.3L816.3,614.45L818.47,615.6L820.63,616.75L822.79,617.92L824.96,619.09L827.12,620.26L829.29,621.45L831.46,622.64L833.62,623.83L835.78,625.03L837.95,626.24L840.12,627.45L842.28,628.67L844.44,629.89L846.61,631.12L848.77,632.36L850.94,633.6L853.1,634.84L855.27,636.09L857.43,637.35L859.6,638.61L861.76,639.88L863.93,641.15L866.1,642.42L868.26,643.7L870.43,644.99L872.59,646.28L874.75,647.58L876.92,648.88L879.09,650.18L881.25,651.49L883.41,652.8L885.58,654.12L887.75,655.44L889.91,656.76L892.07,658.09L894.24,659.42L896.4,660.76L898.57,662.1L900.73,663.44L902.9,664.79L905.06,666.14L907.23,667.5L909.4,668.85L911.56,670.21L913.73,671.58L915.89,672.94L918.06,674.31L920.22,675.69L922.38,677.06L924.55,678.44L926.72,679.82L928.88,681.2L931.04,682.59L933.21,683.98L935.37,685.37L937.54,686.76L939.7,688.15L941.87,689.55L944.03,690.95L946.2,692.35L948.37,693.75L950.53,695.15L952.69,696.56L954.86,697.96L957.02,699.37L959.19,700.78L961.36,702.19L963.52,703.6L965.69,705.02L967.85,706.43L970.01,707.84L972.18,709.26L974.34,710.68L976.51,712.09L978.67,713.51L980.84,714.93L983,716.35L985.17,717.76L987.34,719.18L989.5,720.6" stroke="#000" stroke-opacity="0.5" stroke-width="4.1" stroke-dasharray="4.1 6.77" fill="none"/>
<path d="M123.5,720.6L125.67,722.02L127.83,723.44L130,724.85L132.16,726.27L134.32,727.69L136.49,729.11L138.66,730.52L140.82,731.94L142.99,733.36L145.15,734.77L147.31,736.18L149.48,737.6L151.65,739.01L153.81,740.42L155.97,741.83L158.14,743.24L160.31,744.64L162.47,746.05L164.63,747.45L166.8,748.85L168.97,750.25L171.13,751.65L173.29,753.05L175.46,754.44L177.62,755.83L179.79,757.22L181.96,758.61L184.12,760L186.29,761.38L188.45,762.76L190.62,764.14L192.78,765.51L194.94,766.89L197.11,768.26L199.27,769.62L201.44,770.99L203.61,772.35L205.77,773.7L207.94,775.06L210.1,776.41L212.26,777.76L214.43,779.1L216.59,780.44L218.76,781.78L220.93,783.11L223.09,784.44L225.25,785.76L227.42,787.08L229.58,788.4L231.75,789.71L233.92,791.02L236.08,792.32L238.25,793.62L240.41,794.92L242.57,796.21L244.74,797.5L246.9,798.78L249.07,800.05L251.24,801.32L253.4,802.59L255.56,803.85L257.73,805.11L259.89,806.36L262.06,807.6L264.23,808.84L266.39,810.08L268.56,811.31L270.72,812.53L272.88,813.75L275.05,814.96L277.22,816.17L279.38,817.37L281.54,818.56L283.71,819.75L285.88,820.94L288.04,822.11L290.21,823.28L292.37,824.45L294.53,825.6L296.7,826.75L298.87,827.9L301.03,829.04L303.2,830.17L305.36,831.29L307.52,832.41L309.69,833.52L311.85,834.62L314.02,835.72L316.19,836.81L318.35,837.89L320.51,838.97L322.68,840.03L324.85,841.09L327.01,842.15L329.17,843.19L331.34,844.23L333.5,845.26L335.67,846.28L337.84,847.3L340,848.3L342.16,849.3L344.33,850.29L346.5,851.28L348.66,852.25L350.83,853.22L352.99,854.18L355.15,855.13L357.32,856.07L359.48,857L361.65,857.93L363.82,858.85L365.98,859.75L368.14,860.65L370.31,861.55L372.48,862.43L374.64,863.3L376.8,864.17L378.97,865.02L381.13,865.87L383.3,866.71L385.47,867.54L387.63,868.36L389.8,869.17L391.96,869.97L394.12,870.76L396.29,871.55L398.45,872.32L400.62,873.09L402.79,873.84L404.95,874.59L407.12,875.32L409.28,876.05L411.44,876.77L413.61,877.47L415.78,878.17L417.94,878.86L420.11,879.54L422.27,880.21L424.44,880.87L426.6,881.52L428.76,882.15L430.93,882.78L433.1,883.4L435.26,884.01L437.43,884.61L439.59,885.2L441.76,885.78L443.92,886.35L446.08,886.9L448.25,887.45L450.42,887.99L452.58,888.52L454.75,889.03L456.91,889.54L459.07,890.04L461.24,890.52L463.4,891L465.57,891.46L467.74,891.92L469.9,892.36L472.06,892.79L474.23,893.22L476.39,893.63L478.56,894.03L480.72,894.42L482.89,894.8L485.06,895.17L487.22,895.53L489.38,895.87L491.55,896.21L493.71,896.54L495.88,896.85L498.04,897.15L500.21,897.45L502.37,897.73L504.54,898L506.71,898.26L508.87,898.51L511.04,898.75L513.2,898.98L515.37,899.19L517.53,899.4L519.69,899.59L521.86,899.78L524.03,899.95L526.19,900.11L528.36,900.26L530.52,900.4L532.68,900.53L534.85,900.64L537.01,900.75L539.18,900.84L541.35,900.93L543.51,901L545.67,901.06L547.84,901.11L550,901.15L552.17,901.18L554.34,901.19L556.5,901.2L558.66,901.19L560.83,901.18L563,901.15L565.16,901.11L567.33,901.06L569.49,901L571.65,900.93L573.82,900.84L575.98,900.75L578.15,900.64L580.32,900.53L582.48,900.4L584.64,900.26L586.81,900.11L588.97,899.95L591.14,899.78L593.31,899.59L595.47,899.4L597.63,899.19L599.8,898.98L601.97,898.75L604.13,898.51L606.3,898.26L608.46,898L610.62,897.73L612.79,897.45L614.95,897.15L617.12,896.85L619.28,896.54L621.45,896.21L623.62,895.87L625.78,895.53L627.94,895.17L630.11,894.8L632.28,894.42L634.44,894.03L636.61,893.63L638.77,893.22L640.93,892.79L643.1,892.36L645.26,891.92L647.43,891.46L649.6,891L651.76,890.52L653.93,890.04L656.09,889.54L658.25,889.03L660.42,888.52L662.58,887.99L664.75,887.45L666.92,886.9L669.08,886.35L671.25,885.78L673.41,885.2L675.58,884.61L677.74,884.01L679.91,883.4L682.07,882.78L684.24,882.15L686.4,881.52L688.56,880.87L690.73,880.21L692.9,879.54L695.06,878.86L697.23,878.17L699.39,877.47L701.56,876.77L703.72,876.05L705.88,875.32L708.05,874.59L710.22,873.84L712.38,873.09L714.55,872.32L716.71,871.55L718.88,870.76L721.04,869.97L723.21,869.17L725.37,868.36L727.53,867.54L729.7,866.71L731.87,865.87L734.03,865.02L736.2,864.17L738.36,863.3L740.52,862.43L742.69,861.55L744.86,860.65L747.02,859.75L749.19,858.85L751.35,857.93L753.51,857L755.68,856.07L757.84,855.13L760.01,854.18L762.18,853.22L764.34,852.25L766.5,851.28L768.67,850.29L770.84,849.3L773,848.3L775.16,847.3L777.33,846.28L779.5,845.26L781.66,844.23L783.83,843.19L785.99,842.15L788.16,841.09L790.32,840.03L792.49,838.97L794.65,837.89L796.81,836.81L798.98,835.72L801.14,834.62L803.31,833.52L805.48,832.41L807.64,831.29L809.81,830.17L811.97,829.04L814.13,827.9L816.3,826.75L818.47,825.6L820.63,824.45L822.79,823.28L824.96,822.11L827.12,820.94L829.29,819.75L831.46,818.56L833.62,817.37L835.78,816.17L837.95,814.96L840.12,813.75L842.28,812.53L844.44,811.31L846.61,810.08L848.77,808.84L850.94,807.6L853.1,806.36L855.27,805.11L857.43,803.85L859.6,802.59L861.76,801.32L863.93,800.05L866.1,798.78L868.26,797.5L870.43,796.21L872.59,794.92L874.75,793.62L876.92,792.32L879.09,791.02L881.25,789.71L883.41,788.4L885.58,787.08L887.75,785.76L889.91,784.44L892.07,783.11L894.24,781.78L896.4,780.44L898.57,779.1L900.73,777.76L902.9,776.41L905.06,775.06L907.23,773.7L909.4,772.35L911.56,770.99L913.73,769.62L915.89,768.26L918.06,766.89L920.22,765.51L922.38,764.14L924.55,762.76L926.72,761.38L928.88,760L931.04,758.61L933.21,757.22L935.37,755.83L937.54,754.44L939.7,753.05L941.87,751.65L944.03,750.25L946.2,748.85L948.37,747.45L950.53,746.05L952.69,744.64L954.86,743.24L957.02,741.83L959.19,740.42L961.36,739.01L963.52,737.6L965.69,736.18L967.85,734.77L970.01,733.36L972.18,731.94L974.34,730.52L976.51,729.11L978.67,727.69L980.84,726.27L983,724.85L985.17,723.44L987.34,722.02L989.5,720.6" stroke="#000" stroke-opacity="0.5" stroke-width="4.1" stroke-dasharray="4.1 6.77" fill="none"/>
</g>
<path d="M123.5,901.2H140.0M989.5,901.2H973.0" stroke="#000" stroke-width="2.8"/><path d="M123.5,810.9H140.0M989.5,810.9H973.0" stroke="#000" stroke-width="2.8"/><path d="M123.5,720.6H140.0M989.5,720.6H973.0" stroke="#000" stroke-width="2.8"/><path d="M123.5,630.3H140.0M989.5,630.3H973.0" stroke="#000" stroke-width="2.8"/><path d="M123.5,540H140.0M989.5,540H973.0" stroke="#000" stroke-width="2.8"/><path d="M123.5,919.3V903.0" stroke="#000" stroke-width="2.8"/><path d="M340,919.3V903.0" stroke="#000" stroke-width="2.8"/><path d="M556.5,919.3V903.0" stroke="#000" stroke-width="2.8"/><path d="M773,919.3V903.0" stroke="#000" stroke-width="2.8"/><path d="M989.5,919.3V903.0" stroke="#000" stroke-width="2.8"/><rect x="123.5" y="522.0" width="866.0" height="397.3" fill="none" stroke="#000" stroke-width="3"/>
<rect x="790.6" y="534.3" width="186.4" height="74.8" rx="5" fill="#fff" fill-opacity="0.8" stroke="#ccc" stroke-opacity="0.8" stroke-width="4.3"/>
<path d="M816.1,545.9L833.9,545.9L825,563.7Z" fill="#32cd32" stroke="#32cd32" stroke-width="2.4" stroke-linejoin="round"/>
<path d="M816.1,597.9L833.9,597.9L825,580.1Z" fill="#ff993e" stroke="#ff993e" stroke-width="2.4" stroke-linejoin="round"/>
<rect x="627.8" y="59.7" width="278.7" height="151.3" fill="#fff"/>
<g clip-path="url(#cia)">
<circle cx="627.8" cy="81.62" r="5.4" fill="#ff96cb"/>
<circle cx="645.22" cy="81.77" r="5.4" fill="#ff96cb"/>
<circle cx="662.64" cy="82.21" r="5.4" fill="#ff96cb"/>
<circle cx="680.06" cy="82.97" r="5.4" fill="#ff96cb"/>
<circle cx="697.47" cy="84.04" r="5.4" fill="#ff96cb"/>
<circle cx="714.89" cy="85.47" r="5.4" fill="#ff96cb"/>
<circle cx="732.31" cy="87.27" r="5.4" fill="#ff96cb"/>
<circle cx="749.73" cy="89.5" r="5.4" fill="#ff96cb"/>
<circle cx="767.15" cy="92.22" r="5.4" fill="#ff96cb"/>
<circle cx="784.57" cy="95.54" r="5.4" fill="#ff96cb"/>
<circle cx="801.99" cy="99.58" r="5.4" fill="#ff96cb"/>
<circle cx="819.41" cy="104.58" r="5.4" fill="#ff96cb"/>
<circle cx="836.83" cy="110.89" r="5.4" fill="#ff96cb"/>
<circle cx="854.24" cy="119.18" r="5.4" fill="#ff96cb"/>
<circle cx="871.66" cy="130.84" r="5.4" fill="#ff96cb"/>
<circle cx="889.08" cy="149.36" r="5.4" fill="#ff96cb"/>
<circle cx="906.5" cy="173.35" r="5.4" fill="#ff96cb"/>
<rect x="622.1" y="181.09" width="11.4" height="11.4" rx="1.6" fill="#32cd32" fill-opacity="0.6"/>
<rect x="639.52" y="145.75" width="11.4" height="11.4" rx="1.6" fill="#32cd32" fill-opacity="0.6"/>
<rect x="656.94" y="125.81" width="11.4" height="11.4" rx="1.6" fill="#32cd32" fill-opacity="0.6"/>
<rect x="674.36" y="113.84" width="11.4" height="11.4" rx="1.6" fill="#32cd32" fill-opacity="0.6"/>
<rect x="691.77" y="105.44" width="11.4" height="11.4" rx="1.6" fill="#32cd32" fill-opacity="0.6"/>
<rect x="709.19" y="99.07" width="11.4" height="11.4" rx="1.6" fill="#32cd32" fill-opacity="0.6"/>
<rect x="726.61" y="94.05" width="11.4" height="11.4" rx="1.6" fill="#32cd32" fill-opacity="0.6"/>
<rect x="744.03" y="89.99" width="11.4" height="11.4" rx="1.6" fill="#32cd32" fill-opacity="0.6"/>
<rect x="761.45" y="86.67" width="11.4" height="11.4" rx="1.6" fill="#32cd32" fill-opacity="0.6"/>
<rect x="778.87" y="83.93" width="11.4" height="11.4" rx="1.6" fill="#32cd32" fill-opacity="0.6"/>
<rect x="796.29" y="81.7" width="11.4" height="11.4" rx="1.6" fill="#32cd32" fill-opacity="0.6"/>
<rect x="813.71" y="79.89" width="11.4" height="11.4" rx="1.6" fill="#32cd32" fill-opacity="0.6"/>
<rect x="831.12" y="78.47" width="11.4" height="11.4" rx="1.6" fill="#32cd32" fill-opacity="0.6"/>
<rect x="848.54" y="77.39" width="11.4" height="11.4" rx="1.6" fill="#32cd32" fill-opacity="0.6"/>
<rect x="865.96" y="76.64" width="11.4" height="11.4" rx="1.6" fill="#32cd32" fill-opacity="0.6"/>
<rect x="883.38" y="76.19" width="11.4" height="11.4" rx="1.6" fill="#32cd32" fill-opacity="0.6"/>
<rect x="900.8" y="76.04" width="11.4" height="11.4" rx="1.6" fill="#32cd32" fill-opacity="0.6"/>
<path d="M627.8,80.74L628.26,80.74L628.73,80.74L629.19,80.74L629.66,80.74L630.12,80.74L630.59,80.75L631.05,80.75L631.52,80.75L631.98,80.75L632.44,80.75L632.91,80.75L633.37,80.76L633.84,80.76L634.3,80.76L634.77,80.77L635.23,80.77L635.7,80.77L636.16,80.78L636.63,80.78L637.09,80.78L637.55,80.79L638.02,80.79L638.48,80.8L638.95,80.8L639.41,80.81L639.88,80.81L640.34,80.82L640.81,80.82L641.27,80.83L641.73,80.84L642.2,80.84L642.66,80.85L643.13,80.86L643.59,80.86L644.06,80.87L644.52,80.88L644.99,80.89L645.45,80.89L645.92,80.9L646.38,80.91L646.84,80.92L647.31,80.93L647.77,80.94L648.24,80.95L648.7,80.95L649.17,80.96L649.63,80.97L650.1,80.98L650.56,80.99L651.02,81.01L651.49,81.02L651.95,81.03L652.42,81.04L652.88,81.05L653.35,81.06L653.81,81.07L654.28,81.08L654.74,81.1L655.21,81.11L655.67,81.12L656.13,81.13L656.6,81.15L657.06,81.16L657.53,81.17L657.99,81.19L658.46,81.2L658.92,81.22L659.39,81.23L659.85,81.25L660.31,81.26L660.78,81.27L661.24,81.29L661.71,81.31L662.17,81.32L662.64,81.34L663.1,81.35L663.57,81.37L664.03,81.39L664.5,81.4L664.96,81.42L665.42,81.44L665.89,81.45L666.35,81.47L666.82,81.49L667.28,81.51L667.75,81.53L668.21,81.54L668.68,81.56L669.14,81.58L669.61,81.6L670.07,81.62L670.53,81.64L671,81.66L671.46,81.68L671.93,81.7L672.39,81.72L672.86,81.74L673.32,81.76L673.79,81.78L674.25,81.81L674.71,81.83L675.18,81.85L675.64,81.87L676.11,81.89L676.57,81.92L677.04,81.94L677.5,81.96L677.97,81.99L678.43,82.01L678.89,82.03L679.36,82.06L679.82,82.08L680.29,82.11L680.75,82.13L681.22,82.15L681.68,82.18L682.15,82.2L682.61,82.23L683.08,82.26L683.54,82.28L684,82.31L684.47,82.33L684.93,82.36L685.4,82.39L685.86,82.42L686.33,82.44L686.79,82.47L687.26,82.5L687.72,82.53L688.18,82.56L688.65,82.58L689.11,82.61L689.58,82.64L690.04,82.67L690.51,82.7L690.97,82.73L691.44,82.76L691.9,82.79L692.37,82.82L692.83,82.85L693.29,82.88L693.76,82.91L694.22,82.95L694.69,82.98L695.15,83.01L695.62,83.04L696.08,83.07L696.55,83.11L697.01,83.14L697.47,83.17L697.94,83.21L698.4,83.24L698.87,83.27L699.33,83.31L699.8,83.34L700.26,83.38L700.73,83.41L701.19,83.45L701.66,83.48L702.12,83.52L702.58,83.55L703.05,83.59L703.51,83.63L703.98,83.66L704.44,83.7L704.91,83.74L705.37,83.77L705.84,83.81L706.3,83.85L706.76,83.89L707.23,83.93L707.69,83.97L708.16,84L708.62,84.04L709.09,84.08L709.55,84.12L710.02,84.16L710.48,84.2L710.95,84.24L711.41,84.28L711.87,84.33L712.34,84.37L712.8,84.41L713.27,84.45L713.73,84.49L714.2,84.54L714.66,84.58L715.13,84.62L715.59,84.66L716.05,84.71L716.52,84.75L716.98,84.8L717.45,84.84L717.91,84.88L718.38,84.93L718.84,84.97L719.31,85.02L719.77,85.07L720.24,85.11L720.7,85.16L721.16,85.2L721.63,85.25L722.09,85.3L722.56,85.35L723.02,85.39L723.49,85.44L723.95,85.49L724.42,85.54L724.88,85.59L725.35,85.64L725.81,85.69L726.27,85.74L726.74,85.79L727.2,85.84L727.67,85.89L728.13,85.94L728.6,85.99L729.06,86.04L729.53,86.09L729.99,86.14L730.45,86.2L730.92,86.25L731.38,86.3L731.85,86.35L732.31,86.41L732.78,86.46L733.24,86.52L733.71,86.57L734.17,86.63L734.63,86.68L735.1,86.74L735.56,86.79L736.03,86.85L736.49,86.9L736.96,86.96L737.42,87.02L737.89,87.08L738.35,87.13L738.82,87.19L739.28,87.25L739.74,87.31L740.21,87.37L740.67,87.43L741.14,87.49L741.6,87.54L742.07,87.61L742.53,87.67L743,87.73L743.46,87.79L743.92,87.85L744.39,87.91L744.85,87.97L745.32,88.04L745.78,88.1L746.25,88.16L746.71,88.23L747.18,88.29L747.64,88.35L748.11,88.42L748.57,88.48L749.03,88.55L749.5,88.61L749.96,88.68L750.43,88.75L750.89,88.81L751.36,88.88L751.82,88.95L752.29,89.01L752.75,89.08L753.21,89.15L753.68,89.22L754.14,89.29L754.61,89.36L755.07,89.43L755.54,89.5L756,89.57L756.47,89.64L756.93,89.71L757.4,89.78L757.86,89.86L758.32,89.93L758.79,90L759.25,90.08L759.72,90.15L760.18,90.22L760.65,90.3L761.11,90.37L761.58,90.45L762.04,90.52L762.5,90.6L762.97,90.68L763.43,90.75L763.9,90.83L764.36,90.91L764.83,90.99L765.29,91.06L765.76,91.14L766.22,91.22L766.69,91.3L767.15,91.38L767.61,91.46L768.08,91.54L768.54,91.63L769.01,91.71L769.47,91.79L769.94,91.87L770.4,91.96L770.87,92.04L771.33,92.12L771.79,92.21L772.26,92.29L772.72,92.38L773.19,92.46L773.65,92.55L774.12,92.64L774.58,92.72L775.05,92.81L775.51,92.9L775.98,92.99L776.44,93.08L776.9,93.17L777.37,93.26L777.83,93.35L778.3,93.44L778.76,93.53L779.23,93.62L779.69,93.71L780.16,93.81L780.62,93.9L781.08,93.99L781.55,94.09L782.01,94.18L782.48,94.28L782.94,94.38L783.41,94.47L783.87,94.57L784.34,94.67L784.8,94.76L785.27,94.86L785.73,94.96L786.19,95.06L786.66,95.16L787.12,95.26L787.59,95.36L788.05,95.46L788.52,95.57L788.98,95.67L789.45,95.77L789.91,95.88L790.38,95.98L790.84,96.09L791.3,96.19L791.77,96.3L792.23,96.4L792.7,96.51L793.16,96.62L793.63,96.73L794.09,96.84L794.56,96.95L795.02,97.06L795.48,97.17L795.95,97.28L796.41,97.39L796.88,97.51L797.34,97.62L797.81,97.73L798.27,97.85L798.74,97.96L799.2,98.08L799.66,98.2L800.13,98.31L800.59,98.43L801.06,98.55L801.52,98.67L801.99,98.79L802.45,98.91L802.92,99.03L803.38,99.15L803.85,99.28L804.31,99.4L804.77,99.52L805.24,99.65L805.7,99.77L806.17,99.9L806.63,100.03L807.1,100.15L807.56,100.28L808.03,100.41L808.49,100.54L808.95,100.67L809.42,100.8L809.88,100.94L810.35,101.07L810.81,101.2L811.28,101.34L811.74,101.47L812.21,101.61L812.67,101.75L813.14,101.89L813.6,102.02L814.06,102.16L814.53,102.3L814.99,102.45L815.46,102.59L815.92,102.73L816.39,102.88L816.85,103.02L817.32,103.17L817.78,103.31L818.24,103.46L818.71,103.61L819.17,103.76L819.64,103.91L820.1,104.06L820.57,104.21L821.03,104.37L821.5,104.52L821.96,104.67L822.43,104.83L822.89,104.99L823.35,105.15L823.82,105.31L824.28,105.47L824.75,105.63L825.21,105.79L825.68,105.95L826.14,106.12L826.61,106.28L827.07,106.45L827.53,106.62L828,106.79L828.46,106.96L828.93,107.13L829.39,107.3L829.86,107.48L830.32,107.65L830.79,107.83L831.25,108L831.72,108.18L832.18,108.36L832.64,108.54L833.11,108.73L833.57,108.91L834.04,109.1L834.5,109.28L834.97,109.47L835.43,109.66L835.9,109.85L836.36,110.04L836.83,110.23L837.29,110.43L837.75,110.63L838.22,110.82L838.68,111.02L839.15,111.22L839.61,111.43L840.08,111.63L840.54,111.83L841.01,112.04L841.47,112.25L841.93,112.46L842.4,112.67L842.86,112.89L843.33,113.1L843.79,113.32L844.26,113.54L844.72,113.76L845.19,113.98L845.65,114.2L846.12,114.43L846.58,114.66L847.04,114.89L847.51,115.12L847.97,115.35L848.44,115.59L848.9,115.83L849.37,116.07L849.83,116.31L850.3,116.55L850.76,116.8L851.22,117.05L851.69,117.3L852.15,117.55L852.62,117.81L853.08,118.06L853.55,118.33L854.01,118.59L854.48,118.85L854.94,119.12L855.4,119.39L855.87,119.66L856.33,119.94L856.8,120.22L857.26,120.5L857.73,120.78L858.19,121.07L858.66,121.36L859.12,121.65L859.59,121.94L860.05,122.24L860.51,122.54L860.98,122.85L861.44,123.16L861.91,123.47L862.37,123.78L862.84,124.1L863.3,124.42L863.77,124.75L864.23,125.08L864.69,125.41L865.16,125.75L865.62,126.09L866.09,126.43L866.55,126.78L867.02,127.13L867.48,127.49L867.95,127.85L868.41,128.22L868.88,128.59L869.34,128.97L869.8,129.35L870.27,129.73L870.73,130.12L871.2,130.52L871.66,130.92L872.13,131.33L872.59,131.74L873.06,132.16L873.52,132.58L873.99,133.01L874.45,133.45L874.91,133.9L875.38,134.35L875.84,134.8L876.31,135.27L876.77,135.74L877.24,136.22L877.7,136.7L878.17,137.2L878.63,137.7L879.09,138.21L879.56,138.73L880.02,139.26L880.49,139.8L880.95,140.35L881.42,140.91L881.88,141.48L882.35,142.06L882.81,142.66L883.27,143.26L883.74,143.88L884.2,144.51L884.67,145.15L885.13,145.81L885.6,146.48L886.06,147.17L886.53,147.87L886.99,148.59L887.46,149.33L887.92,150.08L888.38,150.86L888.85,151.65L889.31,152.47L889.78,153.31L890.24,154.17L890.71,155.06L891.17,155.97L891.64,156.91L892.1,157.89L892.57,158.89L893.03,159.93L893.49,161L893.96,162.12L894.42,163.28L894.89,164.48L895.35,165.73L895.82,167.04L896.28,168.4L896.75,169.83L897.21,171.32L897.67,172.9L898.14,174.55L898.6,176.31L899.07,178.17L899.53,180.15L900,182.27L900.46,184.54L900.93,187L901.39,189.67L901.86,192.59L902.32,195.83L902.78,199.44L903.25,203.54L903.71,208.28L904.18,213.87L904.64,220.73L905.11,229.56L905.57,231L906.04,231L906.5,231" stroke="#000" stroke-opacity="0.4" stroke-width="3.7" stroke-dasharray="3.7 6.1" fill="none"/>
<path d="M627.8,233.3L628.26,233.3L628.73,233.3L629.19,229.56L629.66,220.73L630.12,213.87L630.59,208.28L631.05,203.54L631.52,199.44L631.98,195.83L632.44,192.59L632.91,189.67L633.37,187L633.84,184.54L634.3,182.27L634.77,180.15L635.23,178.17L635.7,176.31L636.16,174.55L636.63,172.9L637.09,171.32L637.55,169.83L638.02,168.4L638.48,167.04L638.95,165.73L639.41,164.48L639.88,163.28L640.34,162.12L640.81,161L641.27,159.93L641.73,158.89L642.2,157.89L642.66,156.91L643.13,155.97L643.59,155.06L644.06,154.17L644.52,153.31L644.99,152.47L645.45,151.65L645.92,150.86L646.38,150.08L646.84,149.33L647.31,148.59L647.77,147.87L648.24,147.17L648.7,146.48L649.17,145.81L649.63,145.15L650.1,144.51L650.56,143.88L651.02,143.26L651.49,142.66L651.95,142.06L652.42,141.48L652.88,140.91L653.35,140.35L653.81,139.8L654.28,139.26L654.74,138.73L655.21,138.21L655.67,137.7L656.13,137.2L656.6,136.7L657.06,136.22L657.53,135.74L657.99,135.27L658.46,134.8L658.92,134.35L659.39,133.9L659.85,133.45L660.31,133.01L660.78,132.58L661.24,132.16L661.71,131.74L662.17,131.33L662.64,130.92L663.1,130.52L663.57,130.12L664.03,129.73L664.5,129.35L664.96,128.97L665.42,128.59L665.89,128.22L666.35,127.85L666.82,127.49L667.28,127.13L667.75,126.78L668.21,126.43L668.68,126.09L669.14,125.75L669.61,125.41L670.07,125.08L670.53,124.75L671,124.42L671.46,124.1L671.93,123.78L672.39,123.47L672.86,123.16L673.32,122.85L673.79,122.54L674.25,122.24L674.71,121.94L675.18,121.65L675.64,121.36L676.11,121.07L676.57,120.78L677.04,120.5L677.5,120.22L677.97,119.94L678.43,119.66L678.89,119.39L679.36,119.12L679.82,118.85L680.29,118.59L680.75,118.33L681.22,118.06L681.68,117.81L682.15,117.55L682.61,117.3L683.08,117.05L683.54,116.8L684,116.55L684.47,116.31L684.93,116.07L685.4,115.83L685.86,115.59L686.33,115.35L686.79,115.12L687.26,114.89L687.72,114.66L688.18,114.43L688.65,114.2L689.11,113.98L689.58,113.76L690.04,113.54L690.51,113.32L690.97,113.1L691.44,112.89L691.9,112.67L692.37,112.46L692.83,112.25L693.29,112.04L693.76,111.83L694.22,111.63L694.69,111.43L695.15,111.22L695.62,111.02L696.08,110.82L696.55,110.63L697.01,110.43L697.47,110.23L697.94,110.04L698.4,109.85L698.87,109.66L699.33,109.47L699.8,109.28L700.26,109.1L700.73,108.91L701.19,108.73L701.66,108.54L702.12,108.36L702.58,108.18L703.05,108L703.51,107.83L703.98,107.65L704.44,107.48L704.91,107.3L705.37,107.13L705.84,106.96L706.3,106.79L706.76,106.62L707.23,106.45L707.69,106.28L708.16,106.12L708.62,105.95L709.09,105.79L709.55,105.63L710.02,105.47L710.48,105.31L710.95,105.15L711.41,104.99L711.87,104.83L712.34,104.67L712.8,104.52L713.27,104.37L713.73,104.21L714.2,104.06L714.66,103.91L715.13,103.76L715.59,103.61L716.05,103.46L716.52,103.31L716.98,103.17L717.45,103.02L717.91,102.88L718.38,102.73L718.84,102.59L719.31,102.45L719.77,102.3L720.24,102.16L720.7,102.02L721.16,101.89L721.63,101.75L722.09,101.61L722.56,101.47L723.02,101.34L723.49,101.2L723.95,101.07L724.42,100.94L724.88,100.8L725.35,100.67L725.81,100.54L726.27,100.41L726.74,100.28L727.2,100.15L727.67,100.03L728.13,99.9L728.6,99.77L729.06,99.65L729.53,99.52L729.99,99.4L730.45,99.28L730.92,99.15L731.38,99.03L731.85,98.91L732.31,98.79L732.78,98.67L733.24,98.55L733.71,98.43L734.17,98.31L734.63,98.2L735.1,98.08L735.56,97.96L736.03,97.85L736.49,97.73L736.96,97.62L737.42,97.51L737.89,97.39L738.35,97.28L738.82,97.17L739.28,97.06L739.74,96.95L740.21,96.84L740.67,96.73L741.14,96.62L741.6,96.51L742.07,96.4L742.53,96.3L743,96.19L743.46,96.09L743.92,95.98L744.39,95.88L744.85,95.77L745.32,95.67L745.78,95.57L746.25,95.46L746.71,95.36L747.18,95.26L747.64,95.16L748.11,95.06L748.57,94.96L749.03,94.86L749.5,94.76L749.96,94.67L750.43,94.57L750.89,94.47L751.36,94.38L751.82,94.28L752.29,94.18L752.75,94.09L753.21,93.99L753.68,93.9L754.14,93.81L754.61,93.71L755.07,93.62L755.54,93.53L756,93.44L756.47,93.35L756.93,93.26L757.4,93.17L757.86,93.08L758.32,92.99L758.79,92.9L759.25,92.81L759.72,92.72L760.18,92.64L760.65,92.55L761.11,92.46L761.58,92.38L762.04,92.29L762.5,92.21L762.97,92.12L763.43,92.04L763.9,91.96L764.36,91.87L764.83,91.79L765.29,91.71L765.76,91.63L766.22,91.54L766.69,91.46L767.15,91.38L767.61,91.3L768.08,91.22L768.54,91.14L769.01,91.06L769.47,90.99L769.94,90.91L770.4,90.83L770.87,90.75L771.33,90.68L771.79,90.6L772.26,90.52L772.72,90.45L773.19,90.37L773.65,90.3L774.12,90.22L774.58,90.15L775.05,90.08L775.51,90L775.98,89.93L776.44,89.86L776.9,89.78L777.37,89.71L777.83,89.64L778.3,89.57L778.76,89.5L779.23,89.43L779.69,89.36L780.16,89.29L780.62,89.22L781.08,89.15L781.55,89.08L782.01,89.01L782.48,88.95L782.94,88.88L783.41,88.81L783.87,88.75L784.34,88.68L784.8,88.61L785.27,88.55L785.73,88.48L786.19,88.42L786.66,88.35L787.12,88.29L787.59,88.23L788.05,88.16L788.52,88.1L788.98,88.04L789.45,87.97L789.91,87.91L790.38,87.85L790.84,87.79L791.3,87.73L791.77,87.67L792.23,87.61L792.7,87.54L793.16,87.49L793.63,87.43L794.09,87.37L794.56,87.31L795.02,87.25L795.48,87.19L795.95,87.13L796.41,87.08L796.88,87.02L797.34,86.96L797.81,86.9L798.27,86.85L798.74,86.79L799.2,86.74L799.66,86.68L800.13,86.63L800.59,86.57L801.06,86.52L801.52,86.46L801.99,86.41L802.45,86.35L802.92,86.3L803.38,86.25L803.85,86.2L804.31,86.14L804.77,86.09L805.24,86.04L805.7,85.99L806.17,85.94L806.63,85.89L807.1,85.84L807.56,85.79L808.03,85.74L808.49,85.69L808.95,85.64L809.42,85.59L809.88,85.54L810.35,85.49L810.81,85.44L811.28,85.39L811.74,85.35L812.21,85.3L812.67,85.25L813.14,85.2L813.6,85.16L814.06,85.11L814.53,85.07L814.99,85.02L815.46,84.97L815.92,84.93L816.39,84.88L816.85,84.84L817.32,84.8L817.78,84.75L818.24,84.71L818.71,84.66L819.17,84.62L819.64,84.58L820.1,84.54L820.57,84.49L821.03,84.45L821.5,84.41L821.96,84.37L822.43,84.33L822.89,84.28L823.35,84.24L823.82,84.2L824.28,84.16L824.75,84.12L825.21,84.08L825.68,84.04L826.14,84L826.61,83.97L827.07,83.93L827.53,83.89L828,83.85L828.46,83.81L828.93,83.77L829.39,83.74L829.86,83.7L830.32,83.66L830.79,83.63L831.25,83.59L831.72,83.55L832.18,83.52L832.64,83.48L833.11,83.45L833.57,83.41L834.04,83.38L834.5,83.34L834.97,83.31L835.43,83.27L835.9,83.24L836.36,83.21L836.83,83.17L837.29,83.14L837.75,83.11L838.22,83.07L838.68,83.04L839.15,83.01L839.61,82.98L840.08,82.95L840.54,82.91L841.01,82.88L841.47,82.85L841.93,82.82L842.4,82.79L842.86,82.76L843.33,82.73L843.79,82.7L844.26,82.67L844.72,82.64L845.19,82.61L845.65,82.58L846.12,82.56L846.58,82.53L847.04,82.5L847.51,82.47L847.97,82.44L848.44,82.42L848.9,82.39L849.37,82.36L849.83,82.33L850.3,82.31L850.76,82.28L851.22,82.26L851.69,82.23L852.15,82.2L852.62,82.18L853.08,82.15L853.55,82.13L854.01,82.11L854.48,82.08L854.94,82.06L855.4,82.03L855.87,82.01L856.33,81.99L856.8,81.96L857.26,81.94L857.73,81.92L858.19,81.89L858.66,81.87L859.12,81.85L859.59,81.83L860.05,81.81L860.51,81.78L860.98,81.76L861.44,81.74L861.91,81.72L862.37,81.7L862.84,81.68L863.3,81.66L863.77,81.64L864.23,81.62L864.69,81.6L865.16,81.58L865.62,81.56L866.09,81.54L866.55,81.53L867.02,81.51L867.48,81.49L867.95,81.47L868.41,81.45L868.88,81.44L869.34,81.42L869.8,81.4L870.27,81.39L870.73,81.37L871.2,81.35L871.66,81.34L872.13,81.32L872.59,81.31L873.06,81.29L873.52,81.27L873.99,81.26L874.45,81.25L874.91,81.23L875.38,81.22L875.84,81.2L876.31,81.19L876.77,81.17L877.24,81.16L877.7,81.15L878.17,81.13L878.63,81.12L879.09,81.11L879.56,81.1L880.02,81.08L880.49,81.07L880.95,81.06L881.42,81.05L881.88,81.04L882.35,81.03L882.81,81.02L883.27,81.01L883.74,80.99L884.2,80.98L884.67,80.97L885.13,80.96L885.6,80.95L886.06,80.95L886.53,80.94L886.99,80.93L887.46,80.92L887.92,80.91L888.38,80.9L888.85,80.89L889.31,80.89L889.78,80.88L890.24,80.87L890.71,80.86L891.17,80.86L891.64,80.85L892.1,80.84L892.57,80.84L893.03,80.83L893.49,80.82L893.96,80.82L894.42,80.81L894.89,80.81L895.35,80.8L895.82,80.8L896.28,80.79L896.75,80.79L897.21,80.78L897.67,80.78L898.14,80.78L898.6,80.77L899.07,80.77L899.53,80.77L900,80.76L900.46,80.76L900.93,80.76L901.39,80.75L901.86,80.75L902.32,80.75L902.78,80.75L903.25,80.75L903.71,80.75L904.18,80.74L904.64,80.74L905.11,80.74L905.57,80.74L906.04,80.74L906.5,80.74" stroke="#000" stroke-opacity="0.4" stroke-width="3.7" stroke-dasharray="3.7 6.1" fill="none"/>
</g>
<path d="M627.8,70.1H637.8" stroke="#000" stroke-width="2"/><path d="M627.8,140.8H637.8" stroke="#000" stroke-width="2"/><path d="M627.8,211.5H637.8" stroke="#000" stroke-width="2"/><path d="M697.47,211.0V201" stroke="#000" stroke-width="2"/><path d="M767.15,211.0V201" stroke="#000" stroke-width="2"/><path d="M836.83,211.0V201" stroke="#000" stroke-width="2"/><rect x="627.8" y="59.7" width="278.7" height="151.3" fill="none" stroke="#000" stroke-width="3"/>
<rect x="421.4" y="635.3" width="278.9" height="169.9" fill="#fff"/>
<g clip-path="url(#cib)">
<path d="M416.6,661.97L426.2,661.97L421.4,671.57Z" fill="#32cd32" stroke="#32cd32" stroke-width="2.6" stroke-linejoin="round"/>
<path d="M434.03,659.68L443.63,659.68L438.83,669.28Z" fill="#32cd32" stroke="#32cd32" stroke-width="2.6" stroke-linejoin="round"/>
<path d="M451.46,657.8L461.06,657.8L456.26,667.4Z" fill="#32cd32" stroke="#32cd32" stroke-width="2.6" stroke-linejoin="round"/>
<path d="M468.89,656.29L478.49,656.29L473.69,665.89Z" fill="#32cd32" stroke="#32cd32" stroke-width="2.6" stroke-linejoin="round"/>
<path d="M486.32,655.1L495.93,655.1L491.12,664.7Z" fill="#32cd32" stroke="#32cd32" stroke-width="2.6" stroke-linejoin="round"/>
<path d="M503.76,654.19L513.36,654.19L508.56,663.79Z" fill="#32cd32" stroke="#32cd32" stroke-width="2.6" stroke-linejoin="round"/>
<path d="M521.19,653.56L530.79,653.56L525.99,663.16Z" fill="#32cd32" stroke="#32cd32" stroke-width="2.6" stroke-linejoin="round"/>
<path d="M538.62,653.18L548.22,653.18L543.42,662.78Z" fill="#32cd32" stroke="#32cd32" stroke-width="2.6" stroke-linejoin="round"/>
<path d="M556.05,653.06L565.65,653.06L560.85,662.66Z" fill="#32cd32" stroke="#32cd32" stroke-width="2.6" stroke-linejoin="round"/>
<path d="M573.48,653.18L583.08,653.18L578.28,662.78Z" fill="#32cd32" stroke="#32cd32" stroke-width="2.6" stroke-linejoin="round"/>
<path d="M590.91,653.56L600.51,653.56L595.71,663.16Z" fill="#32cd32" stroke="#32cd32" stroke-width="2.6" stroke-linejoin="round"/>
<path d="M608.34,654.19L617.94,654.19L613.14,663.79Z" fill="#32cd32" stroke="#32cd32" stroke-width="2.6" stroke-linejoin="round"/>
<path d="M625.77,655.1L635.37,655.1L630.57,664.7Z" fill="#32cd32" stroke="#32cd32" stroke-width="2.6" stroke-linejoin="round"/>
<path d="M643.21,656.29L652.81,656.29L648.01,665.89Z" fill="#32cd32" stroke="#32cd32" stroke-width="2.6" stroke-linejoin="round"/>
<path d="M660.64,657.8L670.24,657.8L665.44,667.4Z" fill="#32cd32" stroke="#32cd32" stroke-width="2.6" stroke-linejoin="round"/>
<path d="M678.07,659.68L687.67,659.68L682.87,669.28Z" fill="#32cd32" stroke="#32cd32" stroke-width="2.6" stroke-linejoin="round"/>
<path d="M695.5,661.97L705.1,661.97L700.3,671.57Z" fill="#32cd32" stroke="#32cd32" stroke-width="2.6" stroke-linejoin="round"/>
<path d="M416.6,671.74L426.2,671.74L421.4,662.14Z" fill="#ff7f0e" stroke="#ff7f0e" stroke-width="2.6" stroke-linejoin="round"/>
<path d="M434.03,674.52L443.63,674.52L438.83,664.92Z" fill="#ff7f0e" stroke="#ff7f0e" stroke-width="2.6" stroke-linejoin="round"/>
<path d="M451.46,677.92L461.06,677.92L456.26,668.32Z" fill="#ff7f0e" stroke="#ff7f0e" stroke-width="2.6" stroke-linejoin="round"/>
<path d="M468.89,682.12L478.49,682.12L473.69,672.52Z" fill="#ff7f0e" stroke="#ff7f0e" stroke-width="2.6" stroke-linejoin="round"/>
<path d="M486.32,687.44L495.93,687.44L491.12,677.84Z" fill="#ff7f0e" stroke="#ff7f0e" stroke-width="2.6" stroke-linejoin="round"/>
<path d="M503.76,694.46L513.36,694.46L508.56,684.86Z" fill="#ff7f0e" stroke="#ff7f0e" stroke-width="2.6" stroke-linejoin="round"/>
<path d="M521.19,704.45L530.79,704.45L525.99,694.85Z" fill="#ff7f0e" stroke="#ff7f0e" stroke-width="2.6" stroke-linejoin="round"/>
<path d="M538.62,720.95L548.22,720.95L543.42,711.35Z" fill="#ff7f0e" stroke="#ff7f0e" stroke-width="2.6" stroke-linejoin="round"/>
<path d="M556.05,748.33L565.65,748.33L560.85,738.73Z" fill="#ff7f0e" stroke="#ff7f0e" stroke-width="2.6" stroke-linejoin="round"/>
<path d="M573.48,720.95L583.08,720.95L578.28,711.35Z" fill="#ff7f0e" stroke="#ff7f0e" stroke-width="2.6" stroke-linejoin="round"/>
<path d="M590.91,704.45L600.51,704.45L595.71,694.85Z" fill="#ff7f0e" stroke="#ff7f0e" stroke-width="2.6" stroke-linejoin="round"/>
<path d="M608.34,694.46L617.94,694.46L613.14,684.86Z" fill="#ff7f0e" stroke="#ff7f0e" stroke-width="2.6" stroke-linejoin="round"/>
<path d="M625.77,687.44L635.37,687.44L630.57,677.84Z" fill="#ff7f0e" stroke="#ff7f0e" stroke-width="2.6" stroke-linejoin="round"/>
<path d="M643.21,682.12L652.81,682.12L648.01,672.52Z" fill="#ff7f0e" stroke="#ff7f0e" stroke-width="2.6" stroke-linejoin="round"/>
<path d="M660.64,677.92L670.24,677.92L665.44,668.32Z" fill="#ff7f0e" stroke="#ff7f0e" stroke-width="2.6" stroke-linejoin="round"/>
<path d="M678.07,674.52L687.67,674.52L682.87,664.92Z" fill="#ff7f0e" stroke="#ff7f0e" stroke-width="2.6" stroke-linejoin="round"/>
<path d="M695.5,671.74L705.1,671.74L700.3,662.14Z" fill="#ff7f0e" stroke="#ff7f0e" stroke-width="2.6" stroke-linejoin="round"/>
<path d="M421.4,666.51L421.86,666.44L422.33,666.38L422.79,666.31L423.26,666.24L423.72,666.18L424.19,666.11L424.65,666.05L425.12,665.98L425.58,665.92L426.05,665.85L426.51,665.79L426.98,665.73L427.44,665.66L427.91,665.6L428.37,665.54L428.84,665.48L429.3,665.42L429.77,665.35L430.23,665.29L430.7,665.23L431.16,665.17L431.63,665.11L432.09,665.05L432.56,664.99L433.02,664.93L433.49,664.87L433.95,664.82L434.42,664.76L434.88,664.7L435.34,664.64L435.81,664.58L436.27,664.53L436.74,664.47L437.2,664.41L437.67,664.36L438.13,664.3L438.6,664.25L439.06,664.19L439.53,664.14L439.99,664.08L440.46,664.03L440.92,663.97L441.39,663.92L441.85,663.87L442.32,663.81L442.78,663.76L443.25,663.71L443.71,663.66L444.18,663.6L444.64,663.55L445.11,663.5L445.57,663.45L446.04,663.4L446.5,663.35L446.97,663.3L447.43,663.25L447.9,663.2L448.36,663.15L448.83,663.1L449.29,663.05L449.75,663L450.22,662.95L450.68,662.9L451.15,662.86L451.61,662.81L452.08,662.76L452.54,662.71L453.01,662.67L453.47,662.62L453.94,662.57L454.4,662.53L454.87,662.48L455.33,662.44L455.8,662.39L456.26,662.35L456.73,662.3L457.19,662.26L457.66,662.21L458.12,662.17L458.59,662.12L459.05,662.08L459.52,662.04L459.98,661.99L460.45,661.95L460.91,661.91L461.38,661.87L461.84,661.82L462.31,661.78L462.77,661.74L463.23,661.7L463.7,661.66L464.16,661.62L464.63,661.58L465.09,661.54L465.56,661.5L466.02,661.46L466.49,661.42L466.95,661.38L467.42,661.34L467.88,661.3L468.35,661.26L468.81,661.22L469.28,661.18L469.74,661.14L470.21,661.11L470.67,661.07L471.14,661.03L471.6,660.99L472.07,660.96L472.53,660.92L473,660.88L473.46,660.85L473.93,660.81L474.39,660.78L474.86,660.74L475.32,660.71L475.79,660.67L476.25,660.64L476.72,660.6L477.18,660.57L477.64,660.53L478.11,660.5L478.57,660.47L479.04,660.43L479.5,660.4L479.97,660.37L480.43,660.33L480.9,660.3L481.36,660.27L481.83,660.24L482.29,660.2L482.76,660.17L483.22,660.14L483.69,660.11L484.15,660.08L484.62,660.05L485.08,660.02L485.55,659.99L486.01,659.95L486.48,659.92L486.94,659.89L487.41,659.87L487.87,659.84L488.34,659.81L488.8,659.78L489.27,659.75L489.73,659.72L490.2,659.69L490.66,659.66L491.12,659.64L491.59,659.61L492.05,659.58L492.52,659.55L492.98,659.53L493.45,659.5L493.91,659.47L494.38,659.45L494.84,659.42L495.31,659.39L495.77,659.37L496.24,659.34L496.7,659.32L497.17,659.29L497.63,659.27L498.1,659.24L498.56,659.22L499.03,659.19L499.49,659.17L499.96,659.14L500.42,659.12L500.89,659.09L501.35,659.07L501.82,659.05L502.28,659.02L502.75,659L503.21,658.98L503.68,658.96L504.14,658.93L504.61,658.91L505.07,658.89L505.53,658.87L506,658.85L506.46,658.83L506.93,658.8L507.39,658.78L507.86,658.76L508.32,658.74L508.79,658.72L509.25,658.7L509.72,658.68L510.18,658.66L510.65,658.64L511.11,658.62L511.58,658.6L512.04,658.58L512.51,658.56L512.97,658.55L513.44,658.53L513.9,658.51L514.37,658.49L514.83,658.47L515.3,658.46L515.76,658.44L516.23,658.42L516.69,658.4L517.16,658.39L517.62,658.37L518.09,658.35L518.55,658.34L519.01,658.32L519.48,658.3L519.94,658.29L520.41,658.27L520.87,658.26L521.34,658.24L521.8,658.23L522.27,658.21L522.73,658.2L523.2,658.18L523.66,658.17L524.13,658.15L524.59,658.14L525.06,658.13L525.52,658.11L525.99,658.1L526.45,658.09L526.92,658.07L527.38,658.06L527.85,658.05L528.31,658.03L528.78,658.02L529.24,658.01L529.71,658L530.17,657.99L530.64,657.97L531.1,657.96L531.57,657.95L532.03,657.94L532.5,657.93L532.96,657.92L533.42,657.91L533.89,657.9L534.35,657.89L534.82,657.88L535.28,657.87L535.75,657.86L536.21,657.85L536.68,657.84L537.14,657.83L537.61,657.82L538.07,657.81L538.54,657.8L539,657.8L539.47,657.79L539.93,657.78L540.4,657.77L540.86,657.76L541.33,657.76L541.79,657.75L542.26,657.74L542.72,657.73L543.19,657.73L543.65,657.72L544.12,657.71L544.58,657.71L545.05,657.7L545.51,657.7L545.98,657.69L546.44,657.68L546.9,657.68L547.37,657.67L547.83,657.67L548.3,657.66L548.76,657.66L549.23,657.66L549.69,657.65L550.16,657.65L550.62,657.64L551.09,657.64L551.55,657.64L552.02,657.63L552.48,657.63L552.95,657.63L553.41,657.62L553.88,657.62L554.34,657.62L554.81,657.61L555.27,657.61L555.74,657.61L556.2,657.61L556.67,657.61L557.13,657.61L557.6,657.6L558.06,657.6L558.53,657.6L558.99,657.6L559.46,657.6L559.92,657.6L560.39,657.6L560.85,657.6L561.31,657.6L561.78,657.6L562.24,657.6L562.71,657.6L563.17,657.6L563.64,657.6L564.1,657.6L564.57,657.61L565.03,657.61L565.5,657.61L565.96,657.61L566.43,657.61L566.89,657.61L567.36,657.62L567.82,657.62L568.29,657.62L568.75,657.63L569.22,657.63L569.68,657.63L570.15,657.64L570.61,657.64L571.08,657.64L571.54,657.65L572.01,657.65L572.47,657.66L572.94,657.66L573.4,657.66L573.87,657.67L574.33,657.67L574.79,657.68L575.26,657.68L575.72,657.69L576.19,657.7L576.65,657.7L577.12,657.71L577.58,657.71L578.05,657.72L578.51,657.73L578.98,657.73L579.44,657.74L579.91,657.75L580.37,657.76L580.84,657.76L581.3,657.77L581.77,657.78L582.23,657.79L582.7,657.8L583.16,657.8L583.63,657.81L584.09,657.82L584.56,657.83L585.02,657.84L585.49,657.85L585.95,657.86L586.42,657.87L586.88,657.88L587.35,657.89L587.81,657.9L588.28,657.91L588.74,657.92L589.2,657.93L589.67,657.94L590.13,657.95L590.6,657.96L591.06,657.97L591.53,657.99L591.99,658L592.46,658.01L592.92,658.02L593.39,658.03L593.85,658.05L594.32,658.06L594.78,658.07L595.25,658.09L595.71,658.1L596.18,658.11L596.64,658.13L597.11,658.14L597.57,658.15L598.04,658.17L598.5,658.18L598.97,658.2L599.43,658.21L599.9,658.23L600.36,658.24L600.83,658.26L601.29,658.27L601.76,658.29L602.22,658.3L602.68,658.32L603.15,658.34L603.61,658.35L604.08,658.37L604.54,658.39L605.01,658.4L605.47,658.42L605.94,658.44L606.4,658.46L606.87,658.47L607.33,658.49L607.8,658.51L608.26,658.53L608.73,658.55L609.19,658.56L609.66,658.58L610.12,658.6L610.59,658.62L611.05,658.64L611.52,658.66L611.98,658.68L612.45,658.7L612.91,658.72L613.38,658.74L613.84,658.76L614.31,658.78L614.77,658.8L615.24,658.83L615.7,658.85L616.17,658.87L616.63,658.89L617.09,658.91L617.56,658.93L618.02,658.96L618.49,658.98L618.95,659L619.42,659.02L619.88,659.05L620.35,659.07L620.81,659.09L621.28,659.12L621.74,659.14L622.21,659.17L622.67,659.19L623.14,659.22L623.6,659.24L624.07,659.27L624.53,659.29L625,659.32L625.46,659.34L625.93,659.37L626.39,659.39L626.86,659.42L627.32,659.45L627.79,659.47L628.25,659.5L628.72,659.53L629.18,659.55L629.65,659.58L630.11,659.61L630.57,659.64L631.04,659.66L631.5,659.69L631.97,659.72L632.43,659.75L632.9,659.78L633.36,659.81L633.83,659.84L634.29,659.87L634.76,659.89L635.22,659.92L635.69,659.95L636.15,659.99L636.62,660.02L637.08,660.05L637.55,660.08L638.01,660.11L638.48,660.14L638.94,660.17L639.41,660.2L639.87,660.24L640.34,660.27L640.8,660.3L641.27,660.33L641.73,660.37L642.2,660.4L642.66,660.43L643.13,660.47L643.59,660.5L644.06,660.53L644.52,660.57L644.98,660.6L645.45,660.64L645.91,660.67L646.38,660.71L646.84,660.74L647.31,660.78L647.77,660.81L648.24,660.85L648.7,660.88L649.17,660.92L649.63,660.96L650.1,660.99L650.56,661.03L651.03,661.07L651.49,661.11L651.96,661.14L652.42,661.18L652.89,661.22L653.35,661.26L653.82,661.3L654.28,661.34L654.75,661.38L655.21,661.42L655.68,661.46L656.14,661.5L656.61,661.54L657.07,661.58L657.54,661.62L658,661.66L658.46,661.7L658.93,661.74L659.39,661.78L659.86,661.82L660.32,661.87L660.79,661.91L661.25,661.95L661.72,661.99L662.18,662.04L662.65,662.08L663.11,662.12L663.58,662.17L664.04,662.21L664.51,662.26L664.97,662.3L665.44,662.35L665.9,662.39L666.37,662.44L666.83,662.48L667.3,662.53L667.76,662.57L668.23,662.62L668.69,662.67L669.16,662.71L669.62,662.76L670.09,662.81L670.55,662.86L671.02,662.9L671.48,662.95L671.95,663L672.41,663.05L672.87,663.1L673.34,663.15L673.8,663.2L674.27,663.25L674.73,663.3L675.2,663.35L675.66,663.4L676.13,663.45L676.59,663.5L677.06,663.55L677.52,663.6L677.99,663.66L678.45,663.71L678.92,663.76L679.38,663.81L679.85,663.87L680.31,663.92L680.78,663.97L681.24,664.03L681.71,664.08L682.17,664.14L682.64,664.19L683.1,664.25L683.57,664.3L684.03,664.36L684.5,664.41L684.96,664.47L685.43,664.53L685.89,664.58L686.36,664.64L686.82,664.7L687.28,664.76L687.75,664.82L688.21,664.87L688.68,664.93L689.14,664.99L689.61,665.05L690.07,665.11L690.54,665.17L691,665.23L691.47,665.29L691.93,665.35L692.4,665.42L692.86,665.48L693.33,665.54L693.79,665.6L694.26,665.66L694.72,665.73L695.19,665.79L695.65,665.85L696.12,665.92L696.58,665.98L697.05,666.05L697.51,666.11L697.98,666.18L698.44,666.24L698.91,666.31L699.37,666.38L699.84,666.44L700.3,666.51" stroke="#000" stroke-opacity="0.4" stroke-width="3.7" stroke-dasharray="3.7 6.1" fill="none"/>
<path d="M421.4,666.51L421.54,666.53L421.68,666.55L421.82,666.57L421.96,666.59L422.1,666.61L422.24,666.63L422.38,666.65L422.52,666.67L422.66,666.69L422.79,666.71L422.93,666.73L423.07,666.76L423.21,666.78L423.35,666.8L423.49,666.82L423.63,666.84L423.77,666.86L423.91,666.88L424.05,666.9L424.19,666.92L424.33,666.94L424.47,666.96L424.61,666.98L424.75,667L424.89,667.03L425.03,667.05L425.17,667.07L425.3,667.09L425.44,667.11L425.58,667.13L425.72,667.15L425.86,667.17L426,667.19L426.14,667.22L426.28,667.24L426.42,667.26L426.56,667.28L426.7,667.3L426.84,667.32L426.98,667.34L427.12,667.37L427.26,667.39L427.4,667.41L427.54,667.43L427.68,667.45L427.81,667.47L427.95,667.5L428.09,667.52L428.23,667.54L428.37,667.56L428.51,667.58L428.65,667.6L428.79,667.63L428.93,667.65L429.07,667.67L429.21,667.69L429.35,667.71L429.49,667.74L429.63,667.76L429.77,667.78L429.91,667.8L430.05,667.83L430.19,667.85L430.32,667.87L430.46,667.89L430.6,667.91L430.74,667.94L430.88,667.96L431.02,667.98L431.16,668L431.3,668.03L431.44,668.05L431.58,668.07L431.72,668.1L431.86,668.12L432,668.14L432.14,668.16L432.28,668.19L432.42,668.21L432.56,668.23L432.7,668.25L432.83,668.28L432.97,668.3L433.11,668.32L433.25,668.35L433.39,668.37L433.53,668.39L433.67,668.42L433.81,668.44L433.95,668.46L434.09,668.49L434.23,668.51L434.37,668.53L434.51,668.56L434.65,668.58L434.79,668.6L434.93,668.63L435.07,668.65L435.21,668.67L435.34,668.7L435.48,668.72L435.62,668.74L435.76,668.77L435.9,668.79L436.04,668.82L436.18,668.84L436.32,668.86L436.46,668.89L436.6,668.91L436.74,668.94L436.88,668.96L437.02,668.98L437.16,669.01L437.3,669.03L437.44,669.06L437.58,669.08L437.72,669.1L437.86,669.13L437.99,669.15L438.13,669.18L438.27,669.2L438.41,669.23L438.55,669.25L438.69,669.28L438.83,669.3L438.97,669.32L439.11,669.35L439.25,669.37L439.39,669.4L439.53,669.42L439.67,669.45L439.81,669.47L439.95,669.5L440.09,669.52L440.23,669.55L440.37,669.57L440.5,669.6L440.64,669.62L440.78,669.65L440.92,669.67L441.06,669.7L441.2,669.72L441.34,669.75L441.48,669.78L441.62,669.8L441.76,669.83L441.9,669.85L442.04,669.88L442.18,669.9L442.32,669.93L442.46,669.95L442.6,669.98L442.74,670.01L442.88,670.03L443.01,670.06L443.15,670.08L443.29,670.11L443.43,670.13L443.57,670.16L443.71,670.19L443.85,670.21L443.99,670.24L444.13,670.26L444.27,670.29L444.41,670.32L444.55,670.34L444.69,670.37L444.83,670.4L444.97,670.42L445.11,670.45L445.25,670.48L445.39,670.5L445.52,670.53L445.66,670.55L445.8,670.58L445.94,670.61L446.08,670.63L446.22,670.66L446.36,670.69L446.5,670.72L446.64,670.74L446.78,670.77L446.92,670.8L447.06,670.82L447.2,670.85L447.34,670.88L447.48,670.9L447.62,670.93L447.76,670.96L447.9,670.99L448.03,671.01L448.17,671.04L448.31,671.07L448.45,671.1L448.59,671.12L448.73,671.15L448.87,671.18L449.01,671.21L449.15,671.23L449.29,671.26L449.43,671.29L449.57,671.32L449.71,671.35L449.85,671.37L449.99,671.4L450.13,671.43L450.27,671.46L450.41,671.49L450.55,671.51L450.68,671.54L450.82,671.57L450.96,671.6L451.1,671.63L451.24,671.66L451.38,671.68L451.52,671.71L451.66,671.74L451.8,671.77L451.94,671.8L452.08,671.83L452.22,671.86L452.36,671.88L452.5,671.91L452.64,671.94L452.78,671.97L452.92,672L453.06,672.03L453.19,672.06L453.33,672.09L453.47,672.12L453.61,672.15L453.75,672.18L453.89,672.21L454.03,672.23L454.17,672.26L454.31,672.29L454.45,672.32L454.59,672.35L454.73,672.38L454.87,672.41L455.01,672.44L455.15,672.47L455.29,672.5L455.43,672.53L455.57,672.56L455.7,672.59L455.84,672.62L455.98,672.65L456.12,672.68L456.26,672.71L456.4,672.74L456.54,672.77L456.68,672.8L456.82,672.83L456.96,672.86L457.1,672.89L457.24,672.92L457.38,672.95L457.52,672.99L457.66,673.02L457.8,673.05L457.94,673.08L458.08,673.11L458.21,673.14L458.35,673.17L458.49,673.2L458.63,673.23L458.77,673.26L458.91,673.3L459.05,673.33L459.19,673.36L459.33,673.39L459.47,673.42L459.61,673.45L459.75,673.48L459.89,673.51L460.03,673.55L460.17,673.58L460.31,673.61L460.45,673.64L460.59,673.67L460.72,673.71L460.86,673.74L461,673.77L461.14,673.8L461.28,673.83L461.42,673.87L461.56,673.9L461.7,673.93L461.84,673.96L461.98,674L462.12,674.03L462.26,674.06L462.4,674.09L462.54,674.13L462.68,674.16L462.82,674.19L462.96,674.22L463.1,674.26L463.23,674.29L463.37,674.32L463.51,674.36L463.65,674.39L463.79,674.42L463.93,674.45L464.07,674.49L464.21,674.52L464.35,674.55L464.49,674.59L464.63,674.62L464.77,674.66L464.91,674.69L465.05,674.72L465.19,674.76L465.33,674.79L465.47,674.82L465.61,674.86L465.75,674.89L465.88,674.93L466.02,674.96L466.16,674.99L466.3,675.03L466.44,675.06L466.58,675.1L466.72,675.13L466.86,675.17L467,675.2L467.14,675.24L467.28,675.27L467.42,675.3L467.56,675.34L467.7,675.37L467.84,675.41L467.98,675.44L468.12,675.48L468.26,675.51L468.39,675.55L468.53,675.58L468.67,675.62L468.81,675.66L468.95,675.69L469.09,675.73L469.23,675.76L469.37,675.8L469.51,675.83L469.65,675.87L469.79,675.9L469.93,675.94L470.07,675.98L470.21,676.01L470.35,676.05L470.49,676.09L470.63,676.12L470.77,676.16L470.9,676.19L471.04,676.23L471.18,676.27L471.32,676.3L471.46,676.34L471.6,676.38L471.74,676.41L471.88,676.45L472.02,676.49L472.16,676.52L472.3,676.56L472.44,676.6L472.58,676.64L472.72,676.67L472.86,676.71L473,676.75L473.14,676.78L473.28,676.82L473.41,676.86L473.55,676.9L473.69,676.94L473.83,676.97L473.97,677.01L474.11,677.05L474.25,677.09L474.39,677.13L474.53,677.16L474.67,677.2L474.81,677.24L474.95,677.28L475.09,677.32L475.23,677.36L475.37,677.39L475.51,677.43L475.65,677.47L475.79,677.51L475.92,677.55L476.06,677.59L476.2,677.63L476.34,677.67L476.48,677.71L476.62,677.74L476.76,677.78L476.9,677.82L477.04,677.86L477.18,677.9L477.32,677.94L477.46,677.98L477.6,678.02L477.74,678.06L477.88,678.1L478.02,678.14L478.16,678.18L478.3,678.22L478.44,678.26L478.57,678.3L478.71,678.34L478.85,678.38L478.99,678.42L479.13,678.47L479.27,678.51L479.41,678.55L479.55,678.59L479.69,678.63L479.83,678.67L479.97,678.71L480.11,678.75L480.25,678.79L480.39,678.84L480.53,678.88L480.67,678.92L480.81,678.96L480.95,679L481.08,679.04L481.22,679.09L481.36,679.13L481.5,679.17L481.64,679.21L481.78,679.25L481.92,679.3L482.06,679.34L482.2,679.38L482.34,679.42L482.48,679.47L482.62,679.51L482.76,679.55L482.9,679.6L483.04,679.64L483.18,679.68L483.32,679.72L483.46,679.77L483.59,679.81L483.73,679.85L483.87,679.9L484.01,679.94L484.15,679.99L484.29,680.03L484.43,680.07L484.57,680.12L484.71,680.16L484.85,680.21L484.99,680.25L485.13,680.29L485.27,680.34L485.41,680.38L485.55,680.43L485.69,680.47L485.83,680.52L485.97,680.56L486.1,680.61L486.24,680.65L486.38,680.7L486.52,680.74L486.66,680.79L486.8,680.83L486.94,680.88L487.08,680.93L487.22,680.97L487.36,681.02L487.5,681.06L487.64,681.11L487.78,681.16L487.92,681.2L488.06,681.25L488.2,681.3L488.34,681.34L488.48,681.39L488.61,681.44L488.75,681.48L488.89,681.53L489.03,681.58L489.17,681.62L489.31,681.67L489.45,681.72L489.59,681.77L489.73,681.81L489.87,681.86L490.01,681.91L490.15,681.96L490.29,682.01L490.43,682.05L490.57,682.1L490.71,682.15L490.85,682.2L490.99,682.25L491.12,682.3L491.26,682.34L491.4,682.39L491.54,682.44L491.68,682.49L491.82,682.54L491.96,682.59L492.1,682.64L492.24,682.69L492.38,682.74L492.52,682.79L492.66,682.84L492.8,682.89L492.94,682.94L493.08,682.99L493.22,683.04L493.36,683.09L493.5,683.14L493.64,683.19L493.77,683.24L493.91,683.29L494.05,683.34L494.19,683.4L494.33,683.45L494.47,683.5L494.61,683.55L494.75,683.6L494.89,683.65L495.03,683.7L495.17,683.76L495.31,683.81L495.45,683.86L495.59,683.91L495.73,683.97L495.87,684.02L496.01,684.07L496.15,684.12L496.28,684.18L496.42,684.23L496.56,684.28L496.7,684.34L496.84,684.39L496.98,684.44L497.12,684.5L497.26,684.55L497.4,684.61L497.54,684.66L497.68,684.71L497.82,684.77L497.96,684.82L498.1,684.88L498.24,684.93L498.38,684.99L498.52,685.04L498.66,685.1L498.79,685.15L498.93,685.21L499.07,685.26L499.21,685.32L499.35,685.38L499.49,685.43L499.63,685.49L499.77,685.54L499.91,685.6L500.05,685.66L500.19,685.71L500.33,685.77L500.47,685.83L500.61,685.89L500.75,685.94L500.89,686L501.03,686.06L501.17,686.12L501.3,686.17L501.44,686.23L501.58,686.29L501.72,686.35L501.86,686.41L502,686.46L502.14,686.52L502.28,686.58L502.42,686.64L502.56,686.7L502.7,686.76L502.84,686.82L502.98,686.88L503.12,686.94L503.26,687L503.4,687.06L503.54,687.12L503.68,687.18L503.81,687.24L503.95,687.3L504.09,687.36L504.23,687.42L504.37,687.48L504.51,687.55L504.65,687.61L504.79,687.67L504.93,687.73L505.07,687.79L505.21,687.86L505.35,687.92L505.49,687.98L505.63,688.04L505.77,688.11L505.91,688.17L506.05,688.23L506.19,688.3L506.33,688.36L506.46,688.42L506.6,688.49L506.74,688.55L506.88,688.62L507.02,688.68L507.16,688.74L507.3,688.81L507.44,688.87L507.58,688.94L507.72,689L507.86,689.07L508,689.14L508.14,689.2L508.28,689.27L508.42,689.33L508.56,689.4L508.7,689.47L508.84,689.53L508.97,689.6L509.11,689.67L509.25,689.74L509.39,689.8L509.53,689.87L509.67,689.94L509.81,690.01L509.95,690.08L510.09,690.14L510.23,690.21L510.37,690.28L510.51,690.35L510.65,690.42L510.79,690.49L510.93,690.56L511.07,690.63L511.21,690.7L511.35,690.77L511.48,690.84L511.62,690.91L511.76,690.98L511.9,691.05L512.04,691.13L512.18,691.2L512.32,691.27L512.46,691.34L512.6,691.41L512.74,691.49L512.88,691.56L513.02,691.63L513.16,691.71L513.3,691.78L513.44,691.85L513.58,691.93L513.72,692L513.86,692.08L513.99,692.15L514.13,692.23L514.27,692.3L514.41,692.38L514.55,692.45L514.69,692.53L514.83,692.6L514.97,692.68L515.11,692.76L515.25,692.83L515.39,692.91L515.53,692.99L515.67,693.06L515.81,693.14L515.95,693.22L516.09,693.3L516.23,693.38L516.37,693.46L516.5,693.53L516.64,693.61L516.78,693.69L516.92,693.77L517.06,693.85L517.2,693.93L517.34,694.01L517.48,694.1L517.62,694.18L517.76,694.26L517.9,694.34L518.04,694.42L518.18,694.5L518.32,694.59L518.46,694.67L518.6,694.75L518.74,694.84L518.88,694.92L519.01,695L519.15,695.09L519.29,695.17L519.43,695.26L519.57,695.34L519.71,695.43L519.85,695.51L519.99,695.6L520.13,695.69L520.27,695.77L520.41,695.86L520.55,695.95L520.69,696.03L520.83,696.12L520.97,696.21L521.11,696.3L521.25,696.39L521.39,696.48L521.53,696.57L521.66,696.66L521.8,696.75L521.94,696.84L522.08,696.93L522.22,697.02L522.36,697.11L522.5,697.2L522.64,697.29L522.78,697.39L522.92,697.48L523.06,697.57L523.2,697.67L523.34,697.76L523.48,697.86L523.62,697.95L523.76,698.04L523.9,698.14L524.04,698.24L524.17,698.33L524.31,698.43L524.45,698.53L524.59,698.62L524.73,698.72L524.87,698.82L525.01,698.92L525.15,699.02L525.29,699.12L525.43,699.22L525.57,699.32L525.71,699.42L525.85,699.52L525.99,699.62L526.13,699.72L526.27,699.82L526.41,699.92L526.55,700.03L526.68,700.13L526.82,700.23L526.96,700.34L527.1,700.44L527.24,700.55L527.38,700.65L527.52,700.76L527.66,700.87L527.8,700.97L527.94,701.08L528.08,701.19L528.22,701.3L528.36,701.41L528.5,701.52L528.64,701.63L528.78,701.74L528.92,701.85L529.06,701.96L529.19,702.07L529.33,702.18L529.47,702.3L529.61,702.41L529.75,702.52L529.89,702.64L530.03,702.75L530.17,702.87L530.31,702.98L530.45,703.1L530.59,703.22L530.73,703.33L530.87,703.45L531.01,703.57L531.15,703.69L531.29,703.81L531.43,703.93L531.57,704.05L531.7,704.17L531.84,704.3L531.98,704.42L532.12,704.54L532.26,704.67L532.4,704.79L532.54,704.92L532.68,705.04L532.82,705.17L532.96,705.3L533.1,705.42L533.24,705.55L533.38,705.68L533.52,705.81L533.66,705.94L533.8,706.07L533.94,706.2L534.08,706.34L534.22,706.47L534.35,706.6L534.49,706.74L534.63,706.87L534.77,707.01L534.91,707.15L535.05,707.28L535.19,707.42L535.33,707.56L535.47,707.7L535.61,707.84L535.75,707.98L535.89,708.13L536.03,708.27L536.17,708.41L536.31,708.56L536.45,708.7L536.59,708.85L536.73,709L536.86,709.15L537,709.29L537.14,709.44L537.28,709.6L537.42,709.75L537.56,709.9L537.7,710.05L537.84,710.21L537.98,710.36L538.12,710.52L538.26,710.68L538.4,710.84L538.54,710.99L538.68,711.15L538.82,711.32L538.96,711.48L539.1,711.64L539.24,711.81L539.37,711.97L539.51,712.14L539.65,712.31L539.79,712.48L539.93,712.65L540.07,712.82L540.21,712.99L540.35,713.16L540.49,713.34L540.63,713.51L540.77,713.69L540.91,713.87L541.05,714.05L541.19,714.23L541.33,714.41L541.47,714.6L541.61,714.78L541.75,714.97L541.88,715.15L542.02,715.34L542.16,715.53L542.3,715.73L542.44,715.92L542.58,716.11L542.72,716.31L542.86,716.51L543,716.71L543.14,716.91L543.28,717.11L543.42,717.31L543.56,717.52L543.7,717.73L543.84,717.94L543.98,718.15L544.12,718.36L544.26,718.58L544.39,718.79L544.53,719.01L544.67,719.23L544.81,719.45L544.95,719.68L545.09,719.9L545.23,720.13L545.37,720.36L545.51,720.59L545.65,720.83L545.79,721.06L545.93,721.3L546.07,721.54L546.21,721.79L546.35,722.03L546.49,722.28L546.63,722.53L546.77,722.78L546.9,723.04L547.04,723.29L547.18,723.56L547.32,723.82L547.46,724.08L547.6,724.35L547.74,724.62L547.88,724.9L548.02,725.18L548.16,725.46L548.3,725.74L548.44,726.03L548.58,726.32L548.72,726.61L548.86,726.91L549,727.21L549.14,727.51L549.28,727.82L549.42,728.13L549.55,728.45L549.69,728.76L549.83,729.09L549.97,729.41L550.11,729.75L550.25,730.08L550.39,730.42L550.53,730.77L550.67,731.12L550.81,731.47L550.95,731.83L551.09,732.19L551.23,732.56L551.37,732.94L551.51,733.32L551.65,733.71L551.79,734.1L551.93,734.5L552.06,734.9L552.2,735.31L552.34,735.73L552.48,736.15L552.62,736.59L552.76,737.02L552.9,737.47L553.04,737.93L553.18,738.39L553.32,738.86L553.46,739.34L553.6,739.83L553.74,740.33L553.88,740.84L554.02,741.36L554.16,741.89L554.3,742.43L554.44,742.98L554.57,743.55L554.71,744.12L554.85,744.71L554.99,745.32L555.13,745.94L555.27,746.57L555.41,747.22L555.55,747.89L555.69,748.58L555.83,749.28L555.97,750.01L556.11,750.75L556.25,751.52L556.39,752.31L556.53,753.12L556.67,753.97L556.81,754.84L556.95,755.74L557.08,756.68L557.22,757.65L557.36,758.65L557.5,759.7L557.64,760.8L557.78,761.94L557.92,763.14L558.06,764.39L558.2,765.71L558.34,767.1L558.48,768.57L558.62,770.13L558.76,771.79L558.9,773.56L559.04,775.47L559.18,777.52L559.32,779.76L559.46,782.21L559.59,784.92L559.73,787.95L559.87,791.38L560.01,795.34L560.15,800.03L560.29,805.77L560.43,813.17L560.57,823.59L560.71,826.35L560.85,826.35L560.99,826.35L561.13,823.59L561.27,813.17L561.41,805.77L561.55,800.03L561.69,795.34L561.83,791.38L561.97,787.95L562.11,784.92L562.24,782.21L562.38,779.76L562.52,777.52L562.66,775.47L562.8,773.56L562.94,771.79L563.08,770.13L563.22,768.57L563.36,767.1L563.5,765.71L563.64,764.39L563.78,763.14L563.92,761.94L564.06,760.8L564.2,759.7L564.34,758.65L564.48,757.65L564.62,756.68L564.75,755.74L564.89,754.84L565.03,753.97L565.17,753.12L565.31,752.31L565.45,751.52L565.59,750.75L565.73,750.01L565.87,749.28L566.01,748.58L566.15,747.89L566.29,747.22L566.43,746.57L566.57,745.94L566.71,745.32L566.85,744.71L566.99,744.12L567.13,743.55L567.26,742.98L567.4,742.43L567.54,741.89L567.68,741.36L567.82,740.84L567.96,740.33L568.1,739.83L568.24,739.34L568.38,738.86L568.52,738.39L568.66,737.93L568.8,737.47L568.94,737.02L569.08,736.59L569.22,736.15L569.36,735.73L569.5,735.31L569.64,734.9L569.77,734.5L569.91,734.1L570.05,733.71L570.19,733.32L570.33,732.94L570.47,732.56L570.61,732.19L570.75,731.83L570.89,731.47L571.03,731.12L571.17,730.77L571.31,730.42L571.45,730.08L571.59,729.75L571.73,729.41L571.87,729.09L572.01,728.76L572.15,728.45L572.28,728.13L572.42,727.82L572.56,727.51L572.7,727.21L572.84,726.91L572.98,726.61L573.12,726.32L573.26,726.03L573.4,725.74L573.54,725.46L573.68,725.18L573.82,724.9L573.96,724.62L574.1,724.35L574.24,724.08L574.38,723.82L574.52,723.56L574.66,723.29L574.79,723.04L574.93,722.78L575.07,722.53L575.21,722.28L575.35,722.03L575.49,721.79L575.63,721.54L575.77,721.3L575.91,721.06L576.05,720.83L576.19,720.59L576.33,720.36L576.47,720.13L576.61,719.9L576.75,719.68L576.89,719.45L577.03,719.23L577.17,719.01L577.31,718.79L577.44,718.58L577.58,718.36L577.72,718.15L577.86,717.94L578,717.73L578.14,717.52L578.28,717.31L578.42,717.11L578.56,716.91L578.7,716.71L578.84,716.51L578.98,716.31L579.12,716.11L579.26,715.92L579.4,715.73L579.54,715.53L579.68,715.34L579.82,715.15L579.95,714.97L580.09,714.78L580.23,714.6L580.37,714.41L580.51,714.23L580.65,714.05L580.79,713.87L580.93,713.69L581.07,713.51L581.21,713.34L581.35,713.16L581.49,712.99L581.63,712.82L581.77,712.65L581.91,712.48L582.05,712.31L582.19,712.14L582.33,711.97L582.46,711.81L582.6,711.64L582.74,711.48L582.88,711.32L583.02,711.15L583.16,710.99L583.3,710.84L583.44,710.68L583.58,710.52L583.72,710.36L583.86,710.21L584,710.05L584.14,709.9L584.28,709.75L584.42,709.6L584.56,709.44L584.7,709.29L584.84,709.15L584.97,709L585.11,708.85L585.25,708.7L585.39,708.56L585.53,708.41L585.67,708.27L585.81,708.13L585.95,707.98L586.09,707.84L586.23,707.7L586.37,707.56L586.51,707.42L586.65,707.28L586.79,707.15L586.93,707.01L587.07,706.87L587.21,706.74L587.35,706.6L587.48,706.47L587.62,706.34L587.76,706.2L587.9,706.07L588.04,705.94L588.18,705.81L588.32,705.68L588.46,705.55L588.6,705.42L588.74,705.3L588.88,705.17L589.02,705.04L589.16,704.92L589.3,704.79L589.44,704.67L589.58,704.54L589.72,704.42L589.86,704.3L590,704.17L590.13,704.05L590.27,703.93L590.41,703.81L590.55,703.69L590.69,703.57L590.83,703.45L590.97,703.33L591.11,703.22L591.25,703.1L591.39,702.98L591.53,702.87L591.67,702.75L591.81,702.64L591.95,702.52L592.09,702.41L592.23,702.3L592.37,702.18L592.51,702.07L592.64,701.96L592.78,701.85L592.92,701.74L593.06,701.63L593.2,701.52L593.34,701.41L593.48,701.3L593.62,701.19L593.76,701.08L593.9,700.97L594.04,700.87L594.18,700.76L594.32,700.65L594.46,700.55L594.6,700.44L594.74,700.34L594.88,700.23L595.02,700.13L595.15,700.03L595.29,699.92L595.43,699.82L595.57,699.72L595.71,699.62L595.85,699.52L595.99,699.42L596.13,699.32L596.27,699.22L596.41,699.12L596.55,699.02L596.69,698.92L596.83,698.82L596.97,698.72L597.11,698.62L597.25,698.53L597.39,698.43L597.53,698.33L597.66,698.24L597.8,698.14L597.94,698.04L598.08,697.95L598.22,697.86L598.36,697.76L598.5,697.67L598.64,697.57L598.78,697.48L598.92,697.39L599.06,697.29L599.2,697.2L599.34,697.11L599.48,697.02L599.62,696.93L599.76,696.84L599.9,696.75L600.04,696.66L600.17,696.57L600.31,696.48L600.45,696.39L600.59,696.3L600.73,696.21L600.87,696.12L601.01,696.03L601.15,695.95L601.29,695.86L601.43,695.77L601.57,695.69L601.71,695.6L601.85,695.51L601.99,695.43L602.13,695.34L602.27,695.26L602.41,695.17L602.55,695.09L602.68,695L602.82,694.92L602.96,694.84L603.1,694.75L603.24,694.67L603.38,694.59L603.52,694.5L603.66,694.42L603.8,694.34L603.94,694.26L604.08,694.18L604.22,694.1L604.36,694.01L604.5,693.93L604.64,693.85L604.78,693.77L604.92,693.69L605.06,693.61L605.2,693.53L605.33,693.46L605.47,693.38L605.61,693.3L605.75,693.22L605.89,693.14L606.03,693.06L606.17,692.99L606.31,692.91L606.45,692.83L606.59,692.76L606.73,692.68L606.87,692.6L607.01,692.53L607.15,692.45L607.29,692.38L607.43,692.3L607.57,692.23L607.71,692.15L607.84,692.08L607.98,692L608.12,691.93L608.26,691.85L608.4,691.78L608.54,691.71L608.68,691.63L608.82,691.56L608.96,691.49L609.1,691.41L609.24,691.34L609.38,691.27L609.52,691.2L609.66,691.13L609.8,691.05L609.94,690.98L610.08,690.91L610.22,690.84L610.35,690.77L610.49,690.7L610.63,690.63L610.77,690.56L610.91,690.49L611.05,690.42L611.19,690.35L611.33,690.28L611.47,690.21L611.61,690.14L611.75,690.08L611.89,690.01L612.03,689.94L612.17,689.87L612.31,689.8L612.45,689.74L612.59,689.67L612.73,689.6L612.86,689.53L613,689.47L613.14,689.4L613.28,689.33L613.42,689.27L613.56,689.2L613.7,689.14L613.84,689.07L613.98,689L614.12,688.94L614.26,688.87L614.4,688.81L614.54,688.74L614.68,688.68L614.82,688.62L614.96,688.55L615.1,688.49L615.24,688.42L615.37,688.36L615.51,688.3L615.65,688.23L615.79,688.17L615.93,688.11L616.07,688.04L616.21,687.98L616.35,687.92L616.49,687.86L616.63,687.79L616.77,687.73L616.91,687.67L617.05,687.61L617.19,687.55L617.33,687.48L617.47,687.42L617.61,687.36L617.75,687.3L617.89,687.24L618.02,687.18L618.16,687.12L618.3,687.06L618.44,687L618.58,686.94L618.72,686.88L618.86,686.82L619,686.76L619.14,686.7L619.28,686.64L619.42,686.58L619.56,686.52L619.7,686.46L619.84,686.41L619.98,686.35L620.12,686.29L620.26,686.23L620.4,686.17L620.53,686.12L620.67,686.06L620.81,686L620.95,685.94L621.09,685.89L621.23,685.83L621.37,685.77L621.51,685.71L621.65,685.66L621.79,685.6L621.93,685.54L622.07,685.49L622.21,685.43L622.35,685.38L622.49,685.32L622.63,685.26L622.77,685.21L622.91,685.15L623.04,685.1L623.18,685.04L623.32,684.99L623.46,684.93L623.6,684.88L623.74,684.82L623.88,684.77L624.02,684.71L624.16,684.66L624.3,684.61L624.44,684.55L624.58,684.5L624.72,684.44L624.86,684.39L625,684.34L625.14,684.28L625.28,684.23L625.42,684.18L625.55,684.12L625.69,684.07L625.83,684.02L625.97,683.97L626.11,683.91L626.25,683.86L626.39,683.81L626.53,683.76L626.67,683.7L626.81,683.65L626.95,683.6L627.09,683.55L627.23,683.5L627.37,683.45L627.51,683.4L627.65,683.34L627.79,683.29L627.93,683.24L628.06,683.19L628.2,683.14L628.34,683.09L628.48,683.04L628.62,682.99L628.76,682.94L628.9,682.89L629.04,682.84L629.18,682.79L629.32,682.74L629.46,682.69L629.6,682.64L629.74,682.59L629.88,682.54L630.02,682.49L630.16,682.44L630.3,682.39L630.44,682.34L630.57,682.3L630.71,682.25L630.85,682.2L630.99,682.15L631.13,682.1L631.27,682.05L631.41,682.01L631.55,681.96L631.69,681.91L631.83,681.86L631.97,681.81L632.11,681.77L632.25,681.72L632.39,681.67L632.53,681.62L632.67,681.58L632.81,681.53L632.95,681.48L633.09,681.44L633.22,681.39L633.36,681.34L633.5,681.3L633.64,681.25L633.78,681.2L633.92,681.16L634.06,681.11L634.2,681.06L634.34,681.02L634.48,680.97L634.62,680.93L634.76,680.88L634.9,680.83L635.04,680.79L635.18,680.74L635.32,680.7L635.46,680.65L635.6,680.61L635.73,680.56L635.87,680.52L636.01,680.47L636.15,680.43L636.29,680.38L636.43,680.34L636.57,680.29L636.71,680.25L636.85,680.21L636.99,680.16L637.13,680.12L637.27,680.07L637.41,680.03L637.55,679.99L637.69,679.94L637.83,679.9L637.97,679.85L638.11,679.81L638.24,679.77L638.38,679.72L638.52,679.68L638.66,679.64L638.8,679.6L638.94,679.55L639.08,679.51L639.22,679.47L639.36,679.42L639.5,679.38L639.64,679.34L639.78,679.3L639.92,679.25L640.06,679.21L640.2,679.17L640.34,679.13L640.48,679.09L640.62,679.04L640.75,679L640.89,678.96L641.03,678.92L641.17,678.88L641.31,678.84L641.45,678.79L641.59,678.75L641.73,678.71L641.87,678.67L642.01,678.63L642.15,678.59L642.29,678.55L642.43,678.51L642.57,678.47L642.71,678.42L642.85,678.38L642.99,678.34L643.13,678.3L643.26,678.26L643.4,678.22L643.54,678.18L643.68,678.14L643.82,678.1L643.96,678.06L644.1,678.02L644.24,677.98L644.38,677.94L644.52,677.9L644.66,677.86L644.8,677.82L644.94,677.78L645.08,677.74L645.22,677.71L645.36,677.67L645.5,677.63L645.64,677.59L645.78,677.55L645.91,677.51L646.05,677.47L646.19,677.43L646.33,677.39L646.47,677.36L646.61,677.32L646.75,677.28L646.89,677.24L647.03,677.2L647.17,677.16L647.31,677.13L647.45,677.09L647.59,677.05L647.73,677.01L647.87,676.97L648.01,676.94L648.15,676.9L648.29,676.86L648.42,676.82L648.56,676.78L648.7,676.75L648.84,676.71L648.98,676.67L649.12,676.64L649.26,676.6L649.4,676.56L649.54,676.52L649.68,676.49L649.82,676.45L649.96,676.41L650.1,676.38L650.24,676.34L650.38,676.3L650.52,676.27L650.66,676.23L650.8,676.19L650.93,676.16L651.07,676.12L651.21,676.09L651.35,676.05L651.49,676.01L651.63,675.98L651.77,675.94L651.91,675.9L652.05,675.87L652.19,675.83L652.33,675.8L652.47,675.76L652.61,675.73L652.75,675.69L652.89,675.66L653.03,675.62L653.17,675.58L653.31,675.55L653.44,675.51L653.58,675.48L653.72,675.44L653.86,675.41L654,675.37L654.14,675.34L654.28,675.3L654.42,675.27L654.56,675.24L654.7,675.2L654.84,675.17L654.98,675.13L655.12,675.1L655.26,675.06L655.4,675.03L655.54,674.99L655.68,674.96L655.82,674.93L655.95,674.89L656.09,674.86L656.23,674.82L656.37,674.79L656.51,674.76L656.65,674.72L656.79,674.69L656.93,674.66L657.07,674.62L657.21,674.59L657.35,674.55L657.49,674.52L657.63,674.49L657.77,674.45L657.91,674.42L658.05,674.39L658.19,674.36L658.33,674.32L658.46,674.29L658.6,674.26L658.74,674.22L658.88,674.19L659.02,674.16L659.16,674.13L659.3,674.09L659.44,674.06L659.58,674.03L659.72,674L659.86,673.96L660,673.93L660.14,673.9L660.28,673.87L660.42,673.83L660.56,673.8L660.7,673.77L660.84,673.74L660.98,673.71L661.11,673.67L661.25,673.64L661.39,673.61L661.53,673.58L661.67,673.55L661.81,673.51L661.95,673.48L662.09,673.45L662.23,673.42L662.37,673.39L662.51,673.36L662.65,673.33L662.79,673.3L662.93,673.26L663.07,673.23L663.21,673.2L663.35,673.17L663.49,673.14L663.62,673.11L663.76,673.08L663.9,673.05L664.04,673.02L664.18,672.99L664.32,672.95L664.46,672.92L664.6,672.89L664.74,672.86L664.88,672.83L665.02,672.8L665.16,672.77L665.3,672.74L665.44,672.71L665.58,672.68L665.72,672.65L665.86,672.62L666,672.59L666.13,672.56L666.27,672.53L666.41,672.5L666.55,672.47L666.69,672.44L666.83,672.41L666.97,672.38L667.11,672.35L667.25,672.32L667.39,672.29L667.53,672.26L667.67,672.23L667.81,672.21L667.95,672.18L668.09,672.15L668.23,672.12L668.37,672.09L668.51,672.06L668.64,672.03L668.78,672L668.92,671.97L669.06,671.94L669.2,671.91L669.34,671.88L669.48,671.86L669.62,671.83L669.76,671.8L669.9,671.77L670.04,671.74L670.18,671.71L670.32,671.68L670.46,671.66L670.6,671.63L670.74,671.6L670.88,671.57L671.02,671.54L671.15,671.51L671.29,671.49L671.43,671.46L671.57,671.43L671.71,671.4L671.85,671.37L671.99,671.35L672.13,671.32L672.27,671.29L672.41,671.26L672.55,671.23L672.69,671.21L672.83,671.18L672.97,671.15L673.11,671.12L673.25,671.1L673.39,671.07L673.53,671.04L673.67,671.01L673.8,670.99L673.94,670.96L674.08,670.93L674.22,670.9L674.36,670.88L674.5,670.85L674.64,670.82L674.78,670.8L674.92,670.77L675.06,670.74L675.2,670.72L675.34,670.69L675.48,670.66L675.62,670.63L675.76,670.61L675.9,670.58L676.04,670.55L676.18,670.53L676.31,670.5L676.45,670.48L676.59,670.45L676.73,670.42L676.87,670.4L677.01,670.37L677.15,670.34L677.29,670.32L677.43,670.29L677.57,670.26L677.71,670.24L677.85,670.21L677.99,670.19L678.13,670.16L678.27,670.13L678.41,670.11L678.55,670.08L678.69,670.06L678.82,670.03L678.96,670.01L679.1,669.98L679.24,669.95L679.38,669.93L679.52,669.9L679.66,669.88L679.8,669.85L679.94,669.83L680.08,669.8L680.22,669.78L680.36,669.75L680.5,669.72L680.64,669.7L680.78,669.67L680.92,669.65L681.06,669.62L681.2,669.6L681.33,669.57L681.47,669.55L681.61,669.52L681.75,669.5L681.89,669.47L682.03,669.45L682.17,669.42L682.31,669.4L682.45,669.37L682.59,669.35L682.73,669.32L682.87,669.3L683.01,669.28L683.15,669.25L683.29,669.23L683.43,669.2L683.57,669.18L683.71,669.15L683.84,669.13L683.98,669.1L684.12,669.08L684.26,669.06L684.4,669.03L684.54,669.01L684.68,668.98L684.82,668.96L684.96,668.94L685.1,668.91L685.24,668.89L685.38,668.86L685.52,668.84L685.66,668.82L685.8,668.79L685.94,668.77L686.08,668.74L686.22,668.72L686.36,668.7L686.49,668.67L686.63,668.65L686.77,668.63L686.91,668.6L687.05,668.58L687.19,668.56L687.33,668.53L687.47,668.51L687.61,668.49L687.75,668.46L687.89,668.44L688.03,668.42L688.17,668.39L688.31,668.37L688.45,668.35L688.59,668.32L688.73,668.3L688.87,668.28L689,668.25L689.14,668.23L689.28,668.21L689.42,668.19L689.56,668.16L689.7,668.14L689.84,668.12L689.98,668.1L690.12,668.07L690.26,668.05L690.4,668.03L690.54,668L690.68,667.98L690.82,667.96L690.96,667.94L691.1,667.91L691.24,667.89L691.38,667.87L691.51,667.85L691.65,667.83L691.79,667.8L691.93,667.78L692.07,667.76L692.21,667.74L692.35,667.71L692.49,667.69L692.63,667.67L692.77,667.65L692.91,667.63L693.05,667.6L693.19,667.58L693.33,667.56L693.47,667.54L693.61,667.52L693.75,667.5L693.89,667.47L694.02,667.45L694.16,667.43L694.3,667.41L694.44,667.39L694.58,667.37L694.72,667.34L694.86,667.32L695,667.3L695.14,667.28L695.28,667.26L695.42,667.24L695.56,667.22L695.7,667.19L695.84,667.17L695.98,667.15L696.12,667.13L696.26,667.11L696.4,667.09L696.53,667.07L696.67,667.05L696.81,667.03L696.95,667L697.09,666.98L697.23,666.96L697.37,666.94L697.51,666.92L697.65,666.9L697.79,666.88L697.93,666.86L698.07,666.84L698.21,666.82L698.35,666.8L698.49,666.78L698.63,666.76L698.77,666.73L698.91,666.71L699.04,666.69L699.18,666.67L699.32,666.65L699.46,666.63L699.6,666.61L699.74,666.59L699.88,666.57L700.02,666.55L700.16,666.53L700.3,666.51" stroke="#000" stroke-opacity="0.4" stroke-width="3.7" stroke-dasharray="3.7 6.1" fill="none"/>
</g>
<path d="M421.4,657.6H431.4" stroke="#000" stroke-width="2"/><path d="M421.4,716.8H431.4" stroke="#000" stroke-width="2"/><path d="M421.4,776H431.4" stroke="#000" stroke-width="2"/><path d="M491.12,805.2V795.2" stroke="#000" stroke-width="2"/><path d="M560.85,805.2V795.2" stroke="#000" stroke-width="2"/><path d="M630.57,805.2V795.2" stroke="#000" stroke-width="2"/><rect x="421.4" y="635.3" width="278.9" height="169.9" fill="none" stroke="#000" stroke-width="3"/>
<g style="filter:grayscale(1)">
<text class="s" transform="translate(46.90,432.45) scale(1.0000,1)" font-size="32.06">0.00</text>
<text class="s" transform="translate(46.90,344.55) scale(1.0000,1)" font-size="32.06">0.25</text>
<text class="s" transform="translate(46.90,256.65) scale(1.0000,1)" font-size="32.06">0.50</text>
<text class="s" transform="translate(46.90,168.75) scale(1.0000,1)" font-size="32.06">0.75</text>
<text class="s" transform="translate(46.90,80.85) scale(1.0000,1)" font-size="32.06">1.00</text>
<text class="s" transform="translate(49.00,912.95) scale(1.0000,1)" font-size="32.06">0.00</text>
<text class="s" transform="translate(49.00,822.65) scale(1.0000,1)" font-size="32.06">0.25</text>
<text class="s" transform="translate(49.00,732.35) scale(1.0000,1)" font-size="32.06">0.50</text>
<text class="s" transform="translate(49.00,642.05) scale(1.0000,1)" font-size="32.06">0.75</text>
<text class="s" transform="translate(49.00,551.75) scale(1.0000,1)" font-size="32.06">1.00</text>
<text class="sb" transform="translate(128.96,27.22) scale(0.9208,1)" font-size="38.70">a</text>
<text class="r" transform="translate(333.14,26.80) scale(1.1287,1)" font-size="40.62">I</text>
<text class="sb" transform="translate(128.51,507.20) scale(0.9941,1)" font-size="41.12">b</text>
<text class="s" transform="translate(179.02,26.90) scale(0.9575,1)" font-size="39.24">P</text>
<text class="s" transform="translate(204.54,26.90) scale(1.1891,1)" font-size="33.64">r</text>
<text class="s" transform="translate(216.98,27.26) scale(1.1233,1)" font-size="34.32">o</text>
<text class="s" transform="translate(237.49,27.13) scale(1.3544,1)" font-size="34.69">t</text>
<text class="s" transform="translate(251.63,27.07) scale(1.1159,1)" font-size="33.40">o</text>
<text class="s" transform="translate(272.78,27.07) scale(1.0693,1)" font-size="33.40">c</text>
<text class="s" transform="translate(290.29,27.07) scale(1.1476,1)" font-size="33.40">o</text>
<text class="s" transform="translate(311.12,26.70) scale(1.0807,1)" font-size="36.85">l</text>
<text class="s" transform="translate(179.02,507.30) scale(0.9575,1)" font-size="39.24">P</text>
<text class="s" transform="translate(204.54,507.30) scale(1.1891,1)" font-size="33.64">r</text>
<text class="s" transform="translate(216.98,507.66) scale(1.1233,1)" font-size="34.32">o</text>
<text class="s" transform="translate(237.49,507.53) scale(1.3544,1)" font-size="34.69">t</text>
<text class="s" transform="translate(251.63,507.47) scale(1.1159,1)" font-size="33.40">o</text>
<text class="s" transform="translate(272.78,507.47) scale(1.0693,1)" font-size="33.40">c</text>
<text class="s" transform="translate(290.29,507.47) scale(1.1476,1)" font-size="33.40">o</text>
<text class="s" transform="translate(311.12,507.10) scale(1.0807,1)" font-size="36.85">l</text>
<text class="r" transform="translate(332.57,507.40) scale(1.1796,1)" font-size="40.62">II</text>
<text class="r" transform="translate(114.06,957.16) scale(1.0840,1)" font-size="34.82">0</text>
<g transform="translate(312,942) scale(0.9951,1.0000)" stroke="#000" fill="none" stroke-linecap="round"><path d="M1,5C2,3.3 3.3,1.6 5,1.3L19.4,1.3" stroke-width="2.5"/><path d="M8.6,2C7.4,6 5.8,11 4.3,14.9" stroke-width="2.4"/><path d="M13.6,2C13.4,6 13.1,10 13.3,12.6C13.5,14 13.8,14.8 14.1,15.1" stroke-width="2.4"/><circle cx="4.1" cy="15" r="1.5" fill="#000" stroke="none"/><circle cx="14" cy="15.1" r="1.4" fill="#000" stroke="none"/></g>
<path d="M336.6,965.6L348.9,933.9" stroke="#000" stroke-width="1.7"/>
<text class="s" transform="translate(351.29,958.00) scale(0.9843,1)" font-size="31.25">4</text>
<g transform="translate(528,941.5) scale(1.0194,1.0303)" stroke="#000" fill="none" stroke-linecap="round"><path d="M1,5C2,3.3 3.3,1.6 5,1.3L19.4,1.3" stroke-width="2.5"/><path d="M8.6,2C7.4,6 5.8,11 4.3,14.9" stroke-width="2.4"/><path d="M13.6,2C13.4,6 13.1,10 13.3,12.6C13.5,14 13.8,14.8 14.1,15.1" stroke-width="2.4"/><circle cx="4.1" cy="15" r="1.5" fill="#000" stroke="none"/><circle cx="14" cy="15.1" r="1.4" fill="#000" stroke="none"/></g>
<path d="M552.6,965.6L565.4,933.9" stroke="#000" stroke-width="1.7"/>
<text class="s" transform="translate(567.34,958.00) scale(1.0450,1)" font-size="31.51">2</text>
<text class="s" transform="translate(735.30,958.19) scale(0.9955,1)" font-size="31.78">3</text>
<g transform="translate(754,942) scale(0.9709,1.0000)" stroke="#000" fill="none" stroke-linecap="round"><path d="M1,5C2,3.3 3.3,1.6 5,1.3L19.4,1.3" stroke-width="2.5"/><path d="M8.6,2C7.4,6 5.8,11 4.3,14.9" stroke-width="2.4"/><path d="M13.6,2C13.4,6 13.1,10 13.3,12.6C13.5,14 13.8,14.8 14.1,15.1" stroke-width="2.4"/><circle cx="4.1" cy="15" r="1.5" fill="#000" stroke="none"/><circle cx="14" cy="15.1" r="1.4" fill="#000" stroke="none"/></g>
<path d="M778.1,965.6L790.4,933.9" stroke="#000" stroke-width="1.7"/>
<text class="s" transform="translate(793.32,958.00) scale(0.9525,1)" font-size="31.25">4</text>
<g transform="translate(979.2,941.5) scale(1.0000,1.0303)" stroke="#000" fill="none" stroke-linecap="round"><path d="M1,5C2,3.3 3.3,1.6 5,1.3L19.4,1.3" stroke-width="2.5"/><path d="M8.6,2C7.4,6 5.8,11 4.3,14.9" stroke-width="2.4"/><path d="M13.6,2C13.4,6 13.1,10 13.3,12.6C13.5,14 13.8,14.8 14.1,15.1" stroke-width="2.4"/><circle cx="4.1" cy="15" r="1.5" fill="#000" stroke="none"/><circle cx="14" cy="15.1" r="1.4" fill="#000" stroke="none"/></g>
<text class="si" transform="translate(535.13,1004.30) scale(0.9263,1)" font-size="41.13">P</text>
<text class="ri" transform="translate(561.08,1003.41) scale(0.9973,1)" font-size="39.49">θ</text>
<text class="s" transform="translate(620.54,237.12) scale(0.9532,1)" font-size="28.53">0</text>
<g transform="translate(743,225.3) scale(0.8447,0.8061)" stroke="#000" fill="none" stroke-linecap="round"><path d="M1,5C2,3.3 3.3,1.6 5,1.3L19.4,1.3" stroke-width="2.5"/><path d="M8.6,2C7.4,6 5.8,11 4.3,14.9" stroke-width="2.4"/><path d="M13.6,2C13.4,6 13.1,10 13.3,12.6C13.5,14 13.8,14.8 14.1,15.1" stroke-width="2.4"/><circle cx="4.1" cy="15" r="1.5" fill="#000" stroke="none"/><circle cx="14" cy="15.1" r="1.4" fill="#000" stroke="none"/></g>
<path d="M764.9,244.5L775.2,217.3" stroke="#000" stroke-width="1.5"/>
<text class="s" transform="translate(777.16,238.60) scale(0.9962,1)" font-size="28.64">2</text>
<g transform="translate(898,224.3) scale(0.8495,0.7697)" stroke="#000" fill="none" stroke-linecap="round"><path d="M1,5C2,3.3 3.3,1.6 5,1.3L19.4,1.3" stroke-width="2.5"/><path d="M8.6,2C7.4,6 5.8,11 4.3,14.9" stroke-width="2.4"/><path d="M13.6,2C13.4,6 13.1,10 13.3,12.6C13.5,14 13.8,14.8 14.1,15.1" stroke-width="2.4"/><circle cx="4.1" cy="15" r="1.5" fill="#000" stroke="none"/><circle cx="14" cy="15.1" r="1.4" fill="#000" stroke="none"/></g>
<text class="r" transform="translate(572.90,80.61) scale(1.1062,1)" font-size="29.79">10</text>
<text class="r" transform="translate(606.00,68.39) scale(1.2022,1)" font-size="21.78">0</text>
<text class="r" transform="translate(550.51,151.31) scale(1.1024,1)" font-size="29.79">10</text>
<path d="M586.8,133.2H602.3" stroke="#000" stroke-width="1.3"/>
<text class="r" transform="translate(605.47,138.80) scale(1.3308,1)" font-size="20.99">2</text>
<text class="r" transform="translate(550.51,222.01) scale(1.1024,1)" font-size="29.79">10</text>
<path d="M586.8,203.9H602.3" stroke="#000" stroke-width="1.3"/>
<text class="r" transform="translate(606.23,209.50) scale(1.1409,1)" font-size="21.12">4</text>
<text class="s" transform="translate(414.14,831.62) scale(0.9532,1)" font-size="28.53">0</text>
<g transform="translate(536.6,819.8) scale(0.8447,0.8061)" stroke="#000" fill="none" stroke-linecap="round"><path d="M1,5C2,3.3 3.3,1.6 5,1.3L19.4,1.3" stroke-width="2.5"/><path d="M8.6,2C7.4,6 5.8,11 4.3,14.9" stroke-width="2.4"/><path d="M13.6,2C13.4,6 13.1,10 13.3,12.6C13.5,14 13.8,14.8 14.1,15.1" stroke-width="2.4"/><circle cx="4.1" cy="15" r="1.5" fill="#000" stroke="none"/><circle cx="14" cy="15.1" r="1.4" fill="#000" stroke="none"/></g>
<path d="M558.5,839L568.8,811.8" stroke="#000" stroke-width="1.5"/>
<text class="s" transform="translate(570.76,833.10) scale(0.9962,1)" font-size="28.64">2</text>
<g transform="translate(691.6,818.8) scale(0.8495,0.7697)" stroke="#000" fill="none" stroke-linecap="round"><path d="M1,5C2,3.3 3.3,1.6 5,1.3L19.4,1.3" stroke-width="2.5"/><path d="M8.6,2C7.4,6 5.8,11 4.3,14.9" stroke-width="2.4"/><path d="M13.6,2C13.4,6 13.1,10 13.3,12.6C13.5,14 13.8,14.8 14.1,15.1" stroke-width="2.4"/><circle cx="4.1" cy="15" r="1.5" fill="#000" stroke="none"/><circle cx="14" cy="15.1" r="1.4" fill="#000" stroke="none"/></g>
<text class="r" transform="translate(366.50,668.11) scale(1.1062,1)" font-size="29.79">10</text>
<text class="r" transform="translate(399.60,655.89) scale(1.2022,1)" font-size="21.78">0</text>
<text class="r" transform="translate(344.11,727.31) scale(1.1024,1)" font-size="29.79">10</text>
<path d="M380.4,709.2H395.9" stroke="#000" stroke-width="1.3"/>
<text class="r" transform="translate(399.07,714.80) scale(1.3308,1)" font-size="20.99">2</text>
<text class="r" transform="translate(344.11,786.51) scale(1.1024,1)" font-size="29.79">10</text>
<path d="M380.4,768.4H395.9" stroke="#000" stroke-width="1.3"/>
<text class="r" transform="translate(399.83,774.00) scale(1.1409,1)" font-size="21.12">4</text>
<g transform="translate(215.7,65.1) scale(1.0)" fill="none" stroke="#000" stroke-linecap="round" stroke-linejoin="round"><path d="M0.9,4.3C2,2.7 4,1.2 6.9,0.8C10,0.5 15,0.6 18,1.4" stroke-width="1.5"/><path d="M18,1.4C20,2.1 20.6,4 19.8,5.8C18.8,8 16,9.6 12.5,10.3" stroke-width="2.2"/><path d="M12.5,10.3C11,10.6 9.5,10.6 8.3,10.4" stroke-width="1.4"/><path d="M8.1,0.9C7.8,5 7,10 5.6,14C5,15.6 4.3,16.7 3.6,17.3" stroke-width="2.4"/></g>
<text class="s" transform="translate(238.33,81.91) scale(0.9531,1)" font-size="26.51">(</text>
<text class="si" transform="translate(250.00,81.30) scale(1.0733,1)" font-size="24.27">M</text>
<text class="s" transform="translate(270.18,81.77) scale(1.5187,1)" font-size="22.14">,</text>
<text class="s" transform="translate(276.93,81.27) scale(1.0368,1)" font-size="24.01">0</text>
<text class="s" transform="translate(292.44,81.91) scale(1.0100,1)" font-size="26.51">)</text>
<g transform="translate(215.7,102.1) scale(1.0)" fill="none" stroke="#000" stroke-linecap="round" stroke-linejoin="round"><path d="M0.9,4.3C2,2.7 4,1.2 6.9,0.8C10,0.5 15,0.6 18,1.4" stroke-width="1.5"/><path d="M18,1.4C20,2.1 20.6,4 19.8,5.8C18.8,8 16,9.6 12.5,10.3" stroke-width="2.2"/><path d="M12.5,10.3C11,10.6 9.5,10.6 8.3,10.4" stroke-width="1.4"/><path d="M8.1,0.9C7.8,5 7,10 5.6,14C5,15.6 4.3,16.7 3.6,17.3" stroke-width="2.4"/></g>
<text class="s" transform="translate(238.66,118.73) scale(0.9427,1)" font-size="26.41">(</text>
<text class="s" transform="translate(247.94,118.56) scale(0.9959,1)" font-size="24.58">0</text>
<text class="s" transform="translate(260.83,118.56) scale(1.1965,1)" font-size="22.99">,</text>
<text class="s" transform="translate(268.04,118.56) scale(0.9959,1)" font-size="24.58">0</text>
<text class="s" transform="translate(282.95,118.73) scale(0.9427,1)" font-size="26.41">)</text>
<g transform="translate(420.3,65.1) scale(1.0)" fill="none" stroke="#000" stroke-linecap="round" stroke-linejoin="round"><path d="M0.9,4.3C2,2.7 4,1.2 6.9,0.8C10,0.5 15,0.6 18,1.4" stroke-width="1.5"/><path d="M18,1.4C20,2.1 20.6,4 19.8,5.8C18.8,8 16,9.6 12.5,10.3" stroke-width="2.2"/><path d="M12.5,10.3C11,10.6 9.5,10.6 8.3,10.4" stroke-width="1.4"/><path d="M8.1,0.9C7.8,5 7,10 5.6,14C5,15.6 4.3,16.7 3.6,17.3" stroke-width="2.4"/></g>
<text class="s" transform="translate(443.29,81.91) scale(0.9816,1)" font-size="26.51">(</text>
<text class="si" transform="translate(454.57,81.30) scale(1.1092,1)" font-size="24.27">M</text>
<text class="s" transform="translate(474.69,81.77) scale(1.5647,1)" font-size="22.14">,</text>
<text class="si" transform="translate(484.08,81.30) scale(1.1041,1)" font-size="24.27">M</text>
<text class="s" transform="translate(508.84,81.91) scale(1.0527,1)" font-size="26.51">)</text>
<g transform="translate(420.3,102.1) scale(1.0)" fill="none" stroke="#000" stroke-linecap="round" stroke-linejoin="round"><path d="M0.9,4.3C2,2.7 4,1.2 6.9,0.8C10,0.5 15,0.6 18,1.4" stroke-width="1.5"/><path d="M18,1.4C20,2.1 20.6,4 19.8,5.8C18.8,8 16,9.6 12.5,10.3" stroke-width="2.2"/><path d="M12.5,10.3C11,10.6 9.5,10.6 8.3,10.4" stroke-width="1.4"/><path d="M8.1,0.9C7.8,5 7,10 5.6,14C5,15.6 4.3,16.7 3.6,17.3" stroke-width="2.4"/></g>
<text class="s" transform="translate(443.33,118.73) scale(0.9570,1)" font-size="26.41">(</text>
<text class="s" transform="translate(452.95,118.56) scale(0.9874,1)" font-size="24.58">0</text>
<text class="s" transform="translate(465.35,118.56) scale(1.3295,1)" font-size="22.99">,</text>
<text class="si" transform="translate(475.19,118.50) scale(1.0656,1)" font-size="24.56">M</text>
<text class="s" transform="translate(499.86,118.73) scale(0.9142,1)" font-size="26.41">)</text>
<g transform="translate(870,544)" fill="none" stroke="#000" stroke-linecap="round" stroke-linejoin="round"><path d="M1.6,16.6C3.5,18 5.5,16.5 6.8,12.5C8,9 9.5,4 10.8,0.8" stroke-width="1.7"/><circle cx="2.2" cy="16.7" r="1.5" fill="#000" stroke="none"/><path d="M10.8,0.8L16,14.8" stroke-width="2.7"/><path d="M16,14.8L30.4,0.8" stroke-width="2.1"/><path d="M30.4,0.8C29.2,5 28,11 28.1,15.8" stroke-width="2.5"/><path d="M28.1,15.8C28.2,17 29.5,17 31.4,16.2" stroke-width="1.7"/></g>
<g transform="translate(870,578.2)" fill="none" stroke="#000" stroke-linecap="round" stroke-linejoin="round"><path d="M1.6,16.6C3.5,18 5.5,16.5 6.8,12.5C8,9 9.5,4 10.8,0.8" stroke-width="1.7"/><circle cx="2.2" cy="16.7" r="1.5" fill="#000" stroke="none"/><path d="M10.8,0.8L16,14.8" stroke-width="2.7"/><path d="M16,14.8L30.4,0.8" stroke-width="2.1"/><path d="M30.4,0.8C29.2,5 28,11 28.1,15.8" stroke-width="2.5"/><path d="M28.1,15.8C28.2,17 29.5,17 31.4,16.2" stroke-width="1.7"/></g>
<path d="M914.5,552.1H934.3M914.5,558.4H934.3M914.5,586.2H934.3M914.5,592.5H934.3" stroke="#000" stroke-width="1.4"/>
<text class="r" transform="translate(944.79,561.46) scale(1.1965,1)" font-size="24.45">0</text>
<text class="si" transform="translate(946.18,595.80) scale(1.0608,1)" font-size="25.15">M</text>
<g transform="translate(0,0) scale(1.0,1)" fill="none" stroke="#000" stroke-linecap="round" stroke-linejoin="round"><path d="M-0.5,246.6C10,248.6 20,250.8 29.2,254.2" stroke-width="3.2"/><path d="M19,246.8C18.5,238 13.5,230.5 7.5,230.6C2.5,230.8 0.6,236 0.4,243" stroke-width="2.8"/><path d="M0.4,243C0.3,250 3,255.3 7,258" stroke-width="2.6"/></g>
<g transform="translate(0,487.7) scale(1.05,1)" fill="none" stroke="#000" stroke-linecap="round" stroke-linejoin="round"><path d="M-0.5,246.6C10,248.6 20,250.8 29.2,254.2" stroke-width="3.2"/><path d="M19,246.8C18.5,238 13.5,230.5 7.5,230.6C2.5,230.8 0.6,236 0.4,243" stroke-width="2.8"/><path d="M0.4,243C0.3,250 3,255.3 7,258" stroke-width="2.6"/></g>
<text class="r" font-size="29.78" transform="translate(34.40,230.99) rotate(-90) scale(1.1034,1)">I</text>
<text class="r" font-size="32.07" transform="translate(35.90,705.01) rotate(-90) scale(1.1318,1)">I</text>
<text class="r" font-size="32.07" transform="translate(35.90,718.23) rotate(-90) scale(1.1437,1)">I</text>
</g>
</svg>
</body></html>
